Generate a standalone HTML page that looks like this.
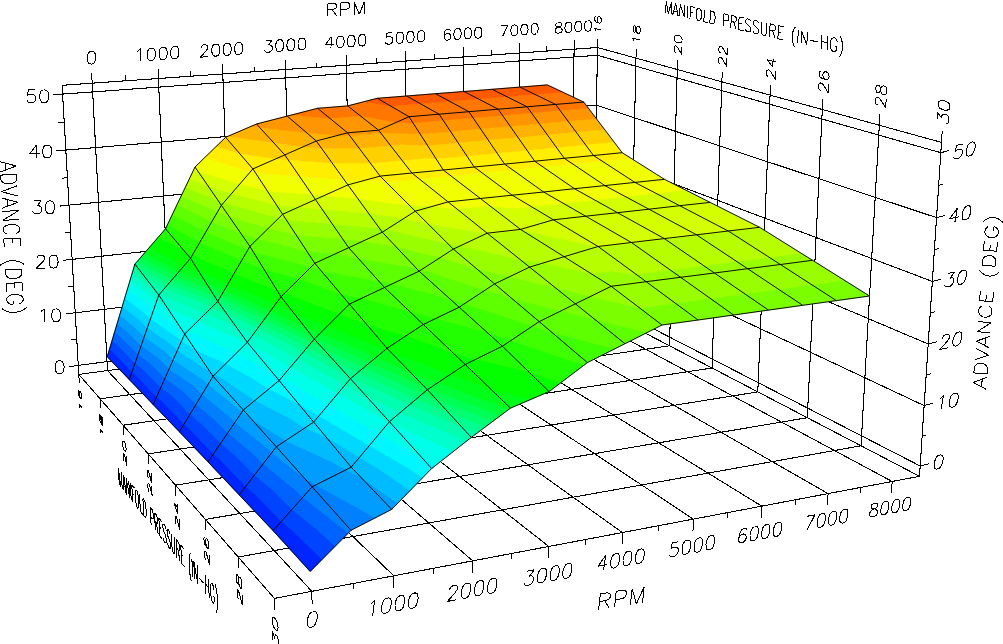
<!DOCTYPE html>
<html><head><meta charset="utf-8"><title>Advance map</title>
<style>html,body{margin:0;padding:0;background:#fff}svg{display:block}text{font-family:"Liberation Sans",sans-serif;fill:#000}</style></head>
<body>
<svg width="1003" height="644" viewBox="0 0 1003 644">
<rect width="1003" height="644" fill="#fff"/>
<g stroke="#000" stroke-width="1.05" fill="none" shape-rendering="crispEdges">
<path d="M78.8 374.4L593.1 305.9M62.1 85.3L597.5 47.5M78.3 365.4L593.2 297.8M75.2 312.8L594.1 250.6M72.1 259.4L594.9 202.8M69 205.1L595.7 154.3M65.8 150.1L596.5 105.2M62.6 94.1L597.4 55.3M78.8 374.4L62.1 85.3M593.1 305.9L597.5 47.5M107.5 370.5L92.2 83.2M171 362.1L158.4 78.5M232.7 353.9L222.8 74M292.7 345.9L285.5 69.5M351.2 338.1L346.4 65.2M408.2 330.5L405.6 61.1M463.7 323.1L463.3 57M517.8 315.9L519.4 53M570.5 308.9L574.1 49.2M593.1 305.9L919.5 476.3M597.5 47.5L941.5 142.4M593.2 297.8L920.2 466M594.1 250.6L924.1 405.6M594.9 202.8L928.2 344M595.7 154.3L932.3 281.4M596.5 105.2L936.5 217.6M597.4 55.3L940.8 152.7M593.1 305.9L597.5 47.5M630 325.1L636 58.1M669.5 345.8L677.3 69.5M712 368L721.9 81.8M757.8 391.9L770.1 95.1M807.3 417.7L822.3 109.6M861 445.8L879.3 125.3M919.5 476.3L941.5 142.4M78.8 374.4L593.1 305.9M100.1 398.8L630 325.1M123.2 425.2L669.5 345.8M148.2 453.9L712 368M175.5 485.2L757.8 391.9M205.4 519.4L807.3 417.7M238.2 557L861 445.8M274.4 598.4L919.5 476.3M78.8 374.4L274.4 598.4M593.1 305.9L919.5 476.3M107.5 370.5L311.8 591.3M171 362.1L393.8 575.8M232.7 353.9L472.8 560.9M292.7 345.9L548.9 546.5M351.2 338.1L622.4 532.6M408.2 330.5L693.3 519.1M463.7 323.1L761.9 506.2M517.8 315.9L828.1 493.6M570.5 308.9L892.2 481.5"/>
</g>
<g shape-rendering="crispEdges" stroke-width="0.6" stroke-linejoin="round">
<polygon points="562.3,92 583.8,102.1 546.3,93.3" fill="#ff7700" stroke="#ff7700"/>
<polygon points="519.9,87.1 547.3,84.9 562.3,92 546.3,93.3" fill="#ff5900" stroke="#ff5900"/>
<polygon points="546.3,93.3 583.8,102.1 555.6,104.4 534.6,94.2" fill="#ff7700" stroke="#ff7700"/>
<polygon points="519.9,87.1 546.3,93.3 534.6,94.2" fill="#ff5900" stroke="#ff5900"/>
<polygon points="534.6,94.2 555.6,104.4 518.4,95.5" fill="#ff7700" stroke="#ff7700"/>
<polygon points="492.1,89.3 519.9,87.1 534.6,94.2 518.4,95.5" fill="#ff5900" stroke="#ff5900"/>
<polygon points="518.4,95.5 555.6,104.4 527.1,106.8 506.5,96.5" fill="#ff7700" stroke="#ff7700"/>
<polygon points="492.1,89.3 518.4,95.5 506.5,96.5" fill="#ff5900" stroke="#ff5900"/>
<polygon points="506.5,96.5 527.1,106.8 490,97.8" fill="#ff7700" stroke="#ff7700"/>
<polygon points="464,91.5 492.1,89.3 506.5,96.5 490,97.8" fill="#ff5900" stroke="#ff5900"/>
<polygon points="490,97.8 527.1,106.8 498.2,109.2 478,98.8" fill="#ff7700" stroke="#ff7700"/>
<polygon points="464,91.5 490,97.8 478,98.8" fill="#ff5900" stroke="#ff5900"/>
<polygon points="478,98.8 498.2,109.2 461.4,100.1" fill="#ff7700" stroke="#ff7700"/>
<polygon points="435.5,93.7 464,91.5 478,98.8 461.4,100.1" fill="#ff5900" stroke="#ff5900"/>
<polygon points="461.4,100.1 498.2,109.2 468.9,111.7 449.2,101.1" fill="#ff7700" stroke="#ff7700"/>
<polygon points="435.5,93.7 461.4,100.1 449.2,101.1" fill="#ff5900" stroke="#ff5900"/>
<polygon points="449.2,101.1 468.9,111.7 432.3,102.5" fill="#ff7700" stroke="#ff7700"/>
<polygon points="406.6,96 435.5,93.7 449.2,101.1 432.3,102.5" fill="#ff5900" stroke="#ff5900"/>
<polygon points="432.3,102.5 468.9,111.7 439.1,114.2 420,103.5" fill="#ff7700" stroke="#ff7700"/>
<polygon points="406.6,96 432.3,102.5 420,103.5" fill="#ff5900" stroke="#ff5900"/>
<polygon points="420,103.5 439.1,114.2 402.8,104.9" fill="#ff7700" stroke="#ff7700"/>
<polygon points="377.3,98.3 406.6,96 420,103.5 402.8,104.9" fill="#ff5900" stroke="#ff5900"/>
<polygon points="402.8,104.9 439.1,114.2 409,116.7 390.3,105.9" fill="#ff7700" stroke="#ff7700"/>
<polygon points="377.3,98.3 402.8,104.9 390.3,105.9" fill="#ff5900" stroke="#ff5900"/>
<polygon points="347.7,105.9 364.9,101.5 390.3,105.9 409,116.7" fill="#ff7700" stroke="#ff7700"/>
<polygon points="364.9,101.5 377.3,98.3 390.3,105.9" fill="#ff5900" stroke="#ff5900"/>
<polygon points="396.6,122.2 378.6,130.2 360.1,115.7" fill="#ff9500" stroke="#ff9500"/>
<polygon points="347.7,105.9 409,116.7 396.6,122.2 360.1,115.7" fill="#ff7700" stroke="#ff7700"/>
<polygon points="360.1,115.7 378.6,130.2 342.2,117.1" fill="#ff9500" stroke="#ff9500"/>
<polygon points="317.6,108.3 347.7,105.9 360.1,115.7 342.2,117.1" fill="#ff7700" stroke="#ff7700"/>
<polygon points="342.2,117.1 378.6,130.2 347.6,132.8 329.6,118.2" fill="#ff9500" stroke="#ff9500"/>
<polygon points="317.6,108.3 342.2,117.1 329.6,118.2" fill="#ff7700" stroke="#ff7700"/>
<polygon points="287.2,116.1 292.7,114.7 329.6,118.2 347.6,132.8" fill="#ff9500" stroke="#ff9500"/>
<polygon points="292.7,114.7 317.6,108.3 329.6,118.2" fill="#ff7700" stroke="#ff7700"/>
<polygon points="337.9,135.4 316.3,141 306.1,132.3" fill="#ffb200" stroke="#ffb200"/>
<polygon points="287.2,116.1 347.6,132.8 337.9,135.4 306.1,132.3" fill="#ff9500" stroke="#ff9500"/>
<polygon points="306.1,132.3 316.3,141 274.8,129.2" fill="#ffb200" stroke="#ffb200"/>
<polygon points="256.5,124 287.2,116.1 306.1,132.3 274.8,129.2" fill="#ff9500" stroke="#ff9500"/>
<polygon points="303.5,146.6 284.8,154.9 273.4,142.4" fill="#ffd000" stroke="#ffd000"/>
<polygon points="274.8,129.2 316.3,141 303.5,146.6 273.4,142.4 259.4,127.1" fill="#ffb200" stroke="#ffb200"/>
<polygon points="256.5,124 274.8,129.2 259.4,127.1" fill="#ff9500" stroke="#ff9500"/>
<polygon points="225.6,137.3 228.5,136.1 273.4,142.4 284.8,154.9" fill="#ffd000" stroke="#ffd000"/>
<polygon points="228.5,136.1 251.7,126.1 259.4,127.1 273.4,142.4" fill="#ffb200" stroke="#ffb200"/>
<polygon points="251.7,126.1 256.5,124 259.4,127.1" fill="#ff9500" stroke="#ff9500"/>
<polygon points="276.1,158.7 252.9,168.9 239.4,153.3" fill="#ffee00" stroke="#ffee00"/>
<polygon points="225.6,137.3 284.8,154.9 276.1,158.7 239.4,153.3" fill="#ffd000" stroke="#ffd000"/>
<polygon points="195,167 204.7,157.6 240.4,168.5" fill="#f2ff00" stroke="#f2ff00"/>
<polygon points="204.7,157.6 216.1,146.5 239.4,153.3 252.9,168.9 240.4,168.5" fill="#ffee00" stroke="#ffee00"/>
<polygon points="216.1,146.5 225.6,137.3 239.4,153.3" fill="#ffd000" stroke="#ffd000"/>
<polygon points="223.6,202.7 221.4,205.3 218.6,201.2" fill="#99ff00" stroke="#99ff00"/>
<polygon points="231.8,193.3 223.6,202.7 218.6,201.2 208.2,186.1" fill="#b7ff00" stroke="#b7ff00"/>
<polygon points="239.9,183.9 231.8,193.3 208.2,186.1 198,171.4" fill="#d4ff00" stroke="#d4ff00"/>
<polygon points="195,167 240.4,168.5 250.7,171.4 239.9,183.9 198,171.4" fill="#f2ff00" stroke="#f2ff00"/>
<polygon points="240.4,168.5 252.9,168.9 250.7,171.4" fill="#ffee00" stroke="#ffee00"/>
<polygon points="165.5,228.8 167.4,224.9 171,226.5" fill="#22ff00" stroke="#22ff00"/>
<polygon points="167.4,224.9 172.1,215 184.7,220.8 171,226.5" fill="#40ff00" stroke="#40ff00"/>
<polygon points="172.1,215 176.8,205.2 198.6,214.9 184.7,220.8" fill="#5eff00" stroke="#5eff00"/>
<polygon points="176.8,205.2 181.2,195.9 212,209.2 198.6,214.9" fill="#7bff00" stroke="#7bff00"/>
<polygon points="181.2,195.9 185.4,187.1 218.6,201.2 221.4,205.3 212,209.2" fill="#99ff00" stroke="#99ff00"/>
<polygon points="185.4,187.1 189.5,178.4 208.2,186.1 218.6,201.2" fill="#b7ff00" stroke="#b7ff00"/>
<polygon points="189.5,178.4 193.7,169.6 198,171.4 208.2,186.1" fill="#d4ff00" stroke="#d4ff00"/>
<polygon points="193.7,169.6 195,167 198,171.4" fill="#f2ff00" stroke="#f2ff00"/>
<polygon points="192.5,254.9 190.5,258.3 183.1,249.5" fill="#04ff00" stroke="#04ff00"/>
<polygon points="165.5,228.8 171,226.5 199.8,242.4 192.5,254.9 183.1,249.5" fill="#22ff00" stroke="#22ff00"/>
<polygon points="171,226.5 184.7,220.8 205.8,232 199.8,242.4" fill="#40ff00" stroke="#40ff00"/>
<polygon points="184.7,220.8 198.6,214.9 211.8,221.7 205.8,232" fill="#5eff00" stroke="#5eff00"/>
<polygon points="198.6,214.9 212,209.2 217.5,212 211.8,221.7" fill="#7bff00" stroke="#7bff00"/>
<polygon points="212,209.2 221.4,205.3 217.5,212" fill="#99ff00" stroke="#99ff00"/>
<polygon points="134.9,264.1 137.4,261.2 141.5,263.4" fill="#00ff73" stroke="#00ff73"/>
<polygon points="137.4,261.2 140.7,257.5 150.2,262.5 141.5,263.4" fill="#00ff55" stroke="#00ff55"/>
<polygon points="140.7,257.5 144.3,253.3 159.9,261.5 150.2,262.5" fill="#00ff37" stroke="#00ff37"/>
<polygon points="144.3,253.3 149.4,247.4 173.8,260.1 159.9,261.5" fill="#00ff19" stroke="#00ff19"/>
<polygon points="149.4,247.4 158.3,237.2 183.1,249.5 190.5,258.3 173.8,260.1" fill="#04ff00" stroke="#04ff00"/>
<polygon points="158.3,237.2 165.5,228.8 183.1,249.5" fill="#22ff00" stroke="#22ff00"/>
<polygon points="159.6,294.1 158.8,295 156.9,292.6" fill="#00ffcc" stroke="#00ffcc"/>
<polygon points="164.8,288.1 159.6,294.1 156.9,292.6 145.1,277.3" fill="#00ffae" stroke="#00ffae"/>
<polygon points="168.5,283.8 164.8,288.1 145.1,277.3 136.9,266.7" fill="#00ff90" stroke="#00ff90"/>
<polygon points="134.9,264.1 141.5,263.4 171.9,279.8 168.5,283.8 136.9,266.7" fill="#00ff73" stroke="#00ff73"/>
<polygon points="141.5,263.4 150.2,262.5 175.3,275.8 171.9,279.8" fill="#00ff55" stroke="#00ff55"/>
<polygon points="150.2,262.5 159.9,261.5 179,271.6 175.3,275.8" fill="#00ff37" stroke="#00ff37"/>
<polygon points="159.9,261.5 173.8,260.1 184.3,265.5 179,271.6" fill="#00ff19" stroke="#00ff19"/>
<polygon points="173.8,260.1 190.5,258.3 184.3,265.5" fill="#04ff00" stroke="#04ff00"/>
<polygon points="107.2,356.8 109.6,349 112,351.1" fill="#0026ff" stroke="#0026ff"/>
<polygon points="109.6,349 112.1,340.5 117.2,344.8 112,351.1" fill="#0044ff" stroke="#0044ff"/>
<polygon points="112.1,340.5 114.6,332 122.5,338.5 117.2,344.8" fill="#0062ff" stroke="#0062ff"/>
<polygon points="114.6,332 117.2,323.5 127.8,332.2 122.5,338.5" fill="#0080ff" stroke="#0080ff"/>
<polygon points="117.2,323.5 119.7,315 133.1,325.7 127.8,332.2" fill="#009dff" stroke="#009dff"/>
<polygon points="119.7,315 122.3,306.4 138.6,319.2 133.1,325.7" fill="#00bbff" stroke="#00bbff"/>
<polygon points="122.3,306.4 124.8,297.9 144,312.7 138.6,319.2" fill="#00d9ff" stroke="#00d9ff"/>
<polygon points="124.8,297.9 127.4,289.4 149.5,306.1 144,312.7" fill="#00f7ff" stroke="#00f7ff"/>
<polygon points="127.4,289.4 129.9,280.8 155.1,299.5 149.5,306.1" fill="#00ffea" stroke="#00ffea"/>
<polygon points="129.9,280.8 131.9,274.3 156.9,292.6 158.8,295 155.1,299.5" fill="#00ffcc" stroke="#00ffcc"/>
<polygon points="131.9,274.3 133.5,268.9 145.1,277.3 156.9,292.6" fill="#00ffae" stroke="#00ffae"/>
<polygon points="133.5,268.9 134.6,265.1 136.9,266.7 145.1,277.3" fill="#00ff90" stroke="#00ff90"/>
<polygon points="134.6,265.1 134.9,264.1 136.9,266.7" fill="#00ff73" stroke="#00ff73"/>
<polygon points="107.2,356.8 112,351.1 131.9,372.1 129.3,379.6" fill="#0026ff" stroke="#0026ff"/>
<polygon points="112,351.1 117.2,344.8 135,363.2 131.9,372.1" fill="#0044ff" stroke="#0044ff"/>
<polygon points="117.2,344.8 122.5,338.5 138.1,354.3 135,363.2" fill="#0062ff" stroke="#0062ff"/>
<polygon points="122.5,338.5 127.8,332.2 141.2,345.5 138.1,354.3" fill="#0080ff" stroke="#0080ff"/>
<polygon points="127.8,332.2 133.1,325.7 144.3,336.6 141.2,345.5" fill="#009dff" stroke="#009dff"/>
<polygon points="133.1,325.7 138.6,319.2 147.4,327.7 144.3,336.6" fill="#00bbff" stroke="#00bbff"/>
<polygon points="138.6,319.2 144,312.7 150.5,318.8 147.4,327.7" fill="#00d9ff" stroke="#00d9ff"/>
<polygon points="144,312.7 149.5,306.1 153.6,309.8 150.5,318.8" fill="#00f7ff" stroke="#00f7ff"/>
<polygon points="149.5,306.1 155.1,299.5 156.7,300.9 153.6,309.8" fill="#00ffea" stroke="#00ffea"/>
<polygon points="155.1,299.5 158.8,295 156.7,300.9" fill="#00ffcc" stroke="#00ffcc"/>
<polygon points="614,141.9 622.2,152.7 608.1,142.5" fill="#ffee00" stroke="#ffee00"/>
<polygon points="604.4,129.3 614,141.9 608.1,142.5 591.5,130.4" fill="#ffd000" stroke="#ffd000"/>
<polygon points="596.2,118.5 604.4,129.3 591.5,130.4 577.3,120.1" fill="#ffb200" stroke="#ffb200"/>
<polygon points="588.1,107.9 596.2,118.5 577.3,120.1 563.3,110" fill="#ff9500" stroke="#ff9500"/>
<polygon points="555.6,104.4 583.8,102.1 588.1,107.9 563.3,110" fill="#ff7700" stroke="#ff7700"/>
<polygon points="608.1,142.5 622.2,152.7 593.5,155.5 585.4,144.6" fill="#ffee00" stroke="#ffee00"/>
<polygon points="591.5,130.4 608.1,142.5 585.4,144.6 575.9,131.8" fill="#ffd000" stroke="#ffd000"/>
<polygon points="577.3,120.1 591.5,130.4 575.9,131.8 567.9,120.9" fill="#ffb200" stroke="#ffb200"/>
<polygon points="563.3,110 577.3,120.1 567.9,120.9 559.9,110.3" fill="#ff9500" stroke="#ff9500"/>
<polygon points="555.6,104.4 563.3,110 559.9,110.3" fill="#ff7700" stroke="#ff7700"/>
<polygon points="585.4,144.6 593.5,155.5 579.4,145.2" fill="#ffee00" stroke="#ffee00"/>
<polygon points="575.9,131.8 585.4,144.6 579.4,145.2 562.8,133" fill="#ffd000" stroke="#ffd000"/>
<polygon points="567.9,120.9 575.9,131.8 562.8,133 548.7,122.6" fill="#ffb200" stroke="#ffb200"/>
<polygon points="559.9,110.3 567.9,120.9 548.7,122.6 534.7,112.4" fill="#ff9500" stroke="#ff9500"/>
<polygon points="527.1,106.8 555.6,104.4 559.9,110.3 534.7,112.4" fill="#ff7700" stroke="#ff7700"/>
<polygon points="579.4,145.2 593.5,155.5 564.3,158.3 556.3,147.3" fill="#ffee00" stroke="#ffee00"/>
<polygon points="562.8,133 579.4,145.2 556.3,147.3 547.1,134.5" fill="#ffd000" stroke="#ffd000"/>
<polygon points="548.7,122.6 562.8,133 547.1,134.5 539.1,123.5" fill="#ffb200" stroke="#ffb200"/>
<polygon points="534.7,112.4 548.7,122.6 539.1,123.5 531.3,112.7" fill="#ff9500" stroke="#ff9500"/>
<polygon points="527.1,106.8 534.7,112.4 531.3,112.7" fill="#ff7700" stroke="#ff7700"/>
<polygon points="556.3,147.3 564.3,158.3 550.3,147.9" fill="#ffee00" stroke="#ffee00"/>
<polygon points="547.1,134.5 556.3,147.3 550.3,147.9 533.8,135.7" fill="#ffd000" stroke="#ffd000"/>
<polygon points="539.1,123.5 547.1,134.5 533.8,135.7 519.7,125.2" fill="#ffb200" stroke="#ffb200"/>
<polygon points="531.3,112.7 539.1,123.5 519.7,125.2 505.8,114.9" fill="#ff9500" stroke="#ff9500"/>
<polygon points="498.2,109.2 527.1,106.8 531.3,112.7 505.8,114.9" fill="#ff7700" stroke="#ff7700"/>
<polygon points="550.3,147.9 564.3,158.3 534.7,161.2 526.9,150.1" fill="#ffee00" stroke="#ffee00"/>
<polygon points="533.8,135.7 550.3,147.9 526.9,150.1 517.8,137.1" fill="#ffd000" stroke="#ffd000"/>
<polygon points="519.7,125.2 533.8,135.7 517.8,137.1 510,126" fill="#ffb200" stroke="#ffb200"/>
<polygon points="505.8,114.9 519.7,125.2 510,126 502.3,115.2" fill="#ff9500" stroke="#ff9500"/>
<polygon points="498.2,109.2 505.8,114.9 502.3,115.2" fill="#ff7700" stroke="#ff7700"/>
<polygon points="526.9,150.1 534.7,161.2 520.7,150.7" fill="#ffee00" stroke="#ffee00"/>
<polygon points="517.8,137.1 526.9,150.1 520.7,150.7 504.3,138.3" fill="#ffd000" stroke="#ffd000"/>
<polygon points="510,126 517.8,137.1 504.3,138.3 490.2,127.8" fill="#ffb200" stroke="#ffb200"/>
<polygon points="502.3,115.2 510,126 490.2,127.8 476.4,117.4" fill="#ff9500" stroke="#ff9500"/>
<polygon points="468.9,111.7 498.2,109.2 502.3,115.2 476.4,117.4" fill="#ff7700" stroke="#ff7700"/>
<polygon points="520.7,150.7 534.7,161.2 504.6,164.1 497,152.9" fill="#ffee00" stroke="#ffee00"/>
<polygon points="504.3,138.3 520.7,150.7 497,152.9 488.1,139.8" fill="#ffd000" stroke="#ffd000"/>
<polygon points="490.2,127.8 504.3,138.3 488.1,139.8 480.4,128.6" fill="#ffb200" stroke="#ffb200"/>
<polygon points="476.4,117.4 490.2,127.8 480.4,128.6 472.9,117.7" fill="#ff9500" stroke="#ff9500"/>
<polygon points="468.9,111.7 476.4,117.4 472.9,117.7" fill="#ff7700" stroke="#ff7700"/>
<polygon points="497,152.9 504.6,164.1 490.8,153.5" fill="#ffee00" stroke="#ffee00"/>
<polygon points="488.1,139.8 497,152.9 490.8,153.5 474.4,141" fill="#ffd000" stroke="#ffd000"/>
<polygon points="480.4,128.6 488.1,139.8 474.4,141 460.4,130.4" fill="#ffb200" stroke="#ffb200"/>
<polygon points="472.9,117.7 480.4,128.6 460.4,130.4 446.6,119.9" fill="#ff9500" stroke="#ff9500"/>
<polygon points="439.1,114.2 468.9,111.7 472.9,117.7 446.6,119.9" fill="#ff7700" stroke="#ff7700"/>
<polygon points="490.8,153.5 504.6,164.1 474.2,167 466.7,155.7" fill="#ffee00" stroke="#ffee00"/>
<polygon points="474.4,141 490.8,153.5 466.7,155.7 457.9,142.5" fill="#ffd000" stroke="#ffd000"/>
<polygon points="460.4,130.4 474.4,141 457.9,142.5 450.5,131.3" fill="#ffb200" stroke="#ffb200"/>
<polygon points="446.6,119.9 460.4,130.4 450.5,131.3 443.1,120.2" fill="#ff9500" stroke="#ff9500"/>
<polygon points="439.1,114.2 446.6,119.9 443.1,120.2" fill="#ff7700" stroke="#ff7700"/>
<polygon points="466.7,155.7 474.2,167 460.4,156.3" fill="#ffee00" stroke="#ffee00"/>
<polygon points="457.9,142.5 466.7,155.7 460.4,156.3 444.1,143.8" fill="#ffd000" stroke="#ffd000"/>
<polygon points="450.5,131.3 457.9,142.5 444.1,143.8 430.2,133" fill="#ffb200" stroke="#ffb200"/>
<polygon points="443.1,120.2 450.5,131.3 430.2,133 416.5,122.5" fill="#ff9500" stroke="#ff9500"/>
<polygon points="409,116.7 439.1,114.2 443.1,120.2 416.5,122.5" fill="#ff7700" stroke="#ff7700"/>
<polygon points="460.4,156.3 474.2,167 443.3,170 436,158.6" fill="#ffee00" stroke="#ffee00"/>
<polygon points="444.1,143.8 460.4,156.3 436,158.6 427.4,145.3" fill="#ffd000" stroke="#ffd000"/>
<polygon points="430.2,133 444.1,143.8 427.4,145.3 420.1,133.9" fill="#ffb200" stroke="#ffb200"/>
<polygon points="416.5,122.5 430.2,133 420.1,133.9 412.9,122.8" fill="#ff9500" stroke="#ff9500"/>
<polygon points="409,116.7 416.5,122.5 412.9,122.8" fill="#ff7700" stroke="#ff7700"/>
<polygon points="436,158.6 443.3,170 424.1,158.2" fill="#ffee00" stroke="#ffee00"/>
<polygon points="427.4,145.3 436,158.6 424.1,158.2 401.6,144.4" fill="#ffd000" stroke="#ffd000"/>
<polygon points="420.1,133.9 427.4,145.3 401.6,144.4 382.5,132.6" fill="#ffb200" stroke="#ffb200"/>
<polygon points="378.6,130.2 396.6,122.2 412.9,122.8 420.1,133.9 382.5,132.6" fill="#ff9500" stroke="#ff9500"/>
<polygon points="396.6,122.2 409,116.7 412.9,122.8" fill="#ff7700" stroke="#ff7700"/>
<polygon points="424.1,158.2 443.3,170 411.9,173 402,160.2" fill="#ffee00" stroke="#ffee00"/>
<polygon points="401.6,144.4 424.1,158.2 402,160.2 390.4,145.4" fill="#ffd000" stroke="#ffd000"/>
<polygon points="382.5,132.6 401.6,144.4 390.4,145.4 380.6,132.7" fill="#ffb200" stroke="#ffb200"/>
<polygon points="378.6,130.2 382.5,132.6 380.6,132.7" fill="#ff9500" stroke="#ff9500"/>
<polygon points="402,160.2 411.9,173 392.8,161.1" fill="#ffee00" stroke="#ffee00"/>
<polygon points="390.4,145.4 402,160.2 392.8,161.1 370.5,147.1" fill="#ffd000" stroke="#ffd000"/>
<polygon points="380.6,132.7 390.4,145.4 370.5,147.1 351.5,135.3" fill="#ffb200" stroke="#ffb200"/>
<polygon points="347.6,132.8 378.6,130.2 380.6,132.7 351.5,135.3" fill="#ff9500" stroke="#ff9500"/>
<polygon points="392.8,161.1 411.9,173 380.1,176.1 370.4,163.2" fill="#ffee00" stroke="#ffee00"/>
<polygon points="370.5,147.1 392.8,161.1 370.4,163.2 359.1,148.2" fill="#ffd000" stroke="#ffd000"/>
<polygon points="351.5,135.3 370.5,147.1 359.1,148.2 349.6,135.4" fill="#ffb200" stroke="#ffb200"/>
<polygon points="347.6,132.8 351.5,135.3 349.6,135.4" fill="#ff9500" stroke="#ff9500"/>
<polygon points="370.4,163.2 380.1,176.1 356.5,163.1" fill="#ffee00" stroke="#ffee00"/>
<polygon points="359.1,148.2 370.4,163.2 356.5,163.1 329,148" fill="#ffd000" stroke="#ffd000"/>
<polygon points="316.3,141 337.9,135.4 349.6,135.4 359.1,148.2 329,148" fill="#ffb200" stroke="#ffb200"/>
<polygon points="337.9,135.4 347.6,132.8 349.6,135.4" fill="#ff9500" stroke="#ff9500"/>
<polygon points="366.7,179.8 347.9,184.9 344.2,179.7" fill="#f2ff00" stroke="#f2ff00"/>
<polygon points="356.5,163.1 380.1,176.1 366.7,179.8 344.2,179.7 332.1,163" fill="#ffee00" stroke="#ffee00"/>
<polygon points="329,148 356.5,163.1 332.1,163 321.3,148" fill="#ffd000" stroke="#ffd000"/>
<polygon points="316.3,141 329,148 321.3,148" fill="#ffb200" stroke="#ffb200"/>
<polygon points="344.2,179.7 347.9,184.9 335.4,179" fill="#f2ff00" stroke="#f2ff00"/>
<polygon points="332.1,163 344.2,179.7 335.4,179 296,160.2" fill="#ffee00" stroke="#ffee00"/>
<polygon points="284.8,154.9 303.5,146.6 321.3,148 332.1,163 296,160.2" fill="#ffd000" stroke="#ffd000"/>
<polygon points="303.5,146.6 316.3,141 321.3,148" fill="#ffb200" stroke="#ffb200"/>
<polygon points="324,195.7 315.4,199.5 312.1,194.7" fill="#d4ff00" stroke="#d4ff00"/>
<polygon points="335.4,179 347.9,184.9 324,195.7 312.1,194.7 299.4,176.1" fill="#f2ff00" stroke="#f2ff00"/>
<polygon points="296,160.2 335.4,179 299.4,176.1 288,159.6" fill="#ffee00" stroke="#ffee00"/>
<polygon points="284.8,154.9 296,160.2 288,159.6" fill="#ffd000" stroke="#ffd000"/>
<polygon points="312.1,194.7 315.4,199.5 304.2,194" fill="#d4ff00" stroke="#d4ff00"/>
<polygon points="299.4,176.1 312.1,194.7 304.2,194 261.4,173.1" fill="#f2ff00" stroke="#f2ff00"/>
<polygon points="252.9,168.9 276.1,158.7 288,159.6 299.4,176.1 261.4,173.1" fill="#ffee00" stroke="#ffee00"/>
<polygon points="276.1,158.7 284.8,154.9 288,159.6" fill="#ffd000" stroke="#ffd000"/>
<polygon points="298.6,207.1 282.6,214.3 276.7,205.2" fill="#b7ff00" stroke="#b7ff00"/>
<polygon points="304.2,194 315.4,199.5 298.6,207.1 276.7,205.2 267.3,191" fill="#d4ff00" stroke="#d4ff00"/>
<polygon points="261.4,173.1 304.2,194 267.3,191 255.3,172.6" fill="#f2ff00" stroke="#f2ff00"/>
<polygon points="252.9,168.9 261.4,173.1 255.3,172.6" fill="#ffee00" stroke="#ffee00"/>
<polygon points="221.4,205.3 223.6,202.7 246.2,208.9" fill="#99ff00" stroke="#99ff00"/>
<polygon points="223.6,202.7 231.8,193.3 276.7,205.2 282.6,214.3 246.2,208.9" fill="#b7ff00" stroke="#b7ff00"/>
<polygon points="231.8,193.3 239.9,183.9 267.3,191 276.7,205.2" fill="#d4ff00" stroke="#d4ff00"/>
<polygon points="239.9,183.9 250.7,171.4 255.3,172.6 267.3,191" fill="#f2ff00" stroke="#f2ff00"/>
<polygon points="250.7,171.4 252.9,168.9 255.3,172.6" fill="#ffee00" stroke="#ffee00"/>
<polygon points="257.8,238.6 249.9,246.4 241.1,233.7" fill="#5eff00" stroke="#5eff00"/>
<polygon points="268.6,228 257.8,238.6 241.1,233.7 229.3,216.7" fill="#7bff00" stroke="#7bff00"/>
<polygon points="221.4,205.3 246.2,208.9 278.8,218 268.6,228 229.3,216.7" fill="#99ff00" stroke="#99ff00"/>
<polygon points="246.2,208.9 282.6,214.3 278.8,218" fill="#b7ff00" stroke="#b7ff00"/>
<polygon points="190.5,258.3 192.5,254.9 197.1,257" fill="#04ff00" stroke="#04ff00"/>
<polygon points="192.5,254.9 199.8,242.4 222.1,252 197.1,257" fill="#22ff00" stroke="#22ff00"/>
<polygon points="199.8,242.4 205.8,232 243.2,247.7 222.1,252" fill="#40ff00" stroke="#40ff00"/>
<polygon points="205.8,232 211.8,221.7 241.1,233.7 249.9,246.4 243.2,247.7" fill="#5eff00" stroke="#5eff00"/>
<polygon points="211.8,221.7 217.5,212 229.3,216.7 241.1,233.7" fill="#7bff00" stroke="#7bff00"/>
<polygon points="217.5,212 221.4,205.3 229.3,216.7" fill="#99ff00" stroke="#99ff00"/>
<polygon points="219.5,298.4 217.8,301.4 214.3,296" fill="#00ff73" stroke="#00ff73"/>
<polygon points="221.8,294.5 219.5,298.4 214.3,296 209.9,288.9" fill="#00ff55" stroke="#00ff55"/>
<polygon points="224.3,290.2 221.8,294.5 209.9,288.9 205,281.3" fill="#00ff37" stroke="#00ff37"/>
<polygon points="227.9,284.1 224.3,290.2 205,281.3 198.3,270.6" fill="#00ff19" stroke="#00ff19"/>
<polygon points="190.5,258.3 197.1,257 234.1,273.4 227.9,284.1 198.3,270.6" fill="#04ff00" stroke="#04ff00"/>
<polygon points="197.1,257 222.1,252 241.7,260.4 234.1,273.4" fill="#22ff00" stroke="#22ff00"/>
<polygon points="222.1,252 243.2,247.7 247.9,249.7 241.7,260.4" fill="#40ff00" stroke="#40ff00"/>
<polygon points="243.2,247.7 249.9,246.4 247.9,249.7" fill="#5eff00" stroke="#5eff00"/>
<polygon points="158.8,295 159.6,294.1 163.1,295.5" fill="#00ffcc" stroke="#00ffcc"/>
<polygon points="159.6,294.1 164.8,288.1 191.6,298.6 163.1,295.5" fill="#00ffae" stroke="#00ffae"/>
<polygon points="164.8,288.1 168.5,283.8 212.6,300.9 191.6,298.6" fill="#00ff90" stroke="#00ff90"/>
<polygon points="168.5,283.8 171.9,279.8 214.3,296 217.8,301.4 212.6,300.9" fill="#00ff73" stroke="#00ff73"/>
<polygon points="171.9,279.8 175.3,275.8 209.9,288.9 214.3,296" fill="#00ff55" stroke="#00ff55"/>
<polygon points="175.3,275.8 179,271.6 205,281.3 209.9,288.9" fill="#00ff37" stroke="#00ff37"/>
<polygon points="179,271.6 184.3,265.5 198.3,270.6 205,281.3" fill="#00ff19" stroke="#00ff19"/>
<polygon points="184.3,265.5 190.5,258.3 198.3,270.6" fill="#04ff00" stroke="#04ff00"/>
<polygon points="187.5,331.3 184.7,334 181,328.4" fill="#00f7ff" stroke="#00f7ff"/>
<polygon points="197.8,321.1 187.5,331.3 181,328.4 167.5,308.1" fill="#00ffea" stroke="#00ffea"/>
<polygon points="158.8,295 163.1,295.5 205.6,313.4 197.8,321.1 167.5,308.1" fill="#00ffcc" stroke="#00ffcc"/>
<polygon points="163.1,295.5 191.6,298.6 212,307.1 205.6,313.4" fill="#00ffae" stroke="#00ffae"/>
<polygon points="191.6,298.6 212.6,300.9 216.7,302.5 212,307.1" fill="#00ff90" stroke="#00ff90"/>
<polygon points="212.6,300.9 217.8,301.4 216.7,302.5" fill="#00ff73" stroke="#00ff73"/>
<polygon points="129.3,379.6 131.9,372.1 135.3,374.7" fill="#0026ff" stroke="#0026ff"/>
<polygon points="131.9,372.1 135,363.2 142.4,368.8 135.3,374.7" fill="#0044ff" stroke="#0044ff"/>
<polygon points="135,363.2 138.1,354.3 149.6,362.9 142.4,368.8" fill="#0062ff" stroke="#0062ff"/>
<polygon points="138.1,354.3 141.2,345.5 156.9,356.9 149.6,362.9" fill="#0080ff" stroke="#0080ff"/>
<polygon points="141.2,345.5 144.3,336.6 164.2,350.9 156.9,356.9" fill="#009dff" stroke="#009dff"/>
<polygon points="144.3,336.6 147.4,327.7 171.6,344.7 164.2,350.9" fill="#00bbff" stroke="#00bbff"/>
<polygon points="147.4,327.7 150.5,318.8 179.2,338.6 171.6,344.7" fill="#00d9ff" stroke="#00d9ff"/>
<polygon points="150.5,318.8 153.6,309.8 181,328.4 184.7,334 179.2,338.6" fill="#00f7ff" stroke="#00f7ff"/>
<polygon points="153.6,309.8 156.7,300.9 167.5,308.1 181,328.4" fill="#00ffea" stroke="#00ffea"/>
<polygon points="156.7,300.9 158.8,295 167.5,308.1" fill="#00ffcc" stroke="#00ffcc"/>
<polygon points="129.3,379.6 135.3,374.7 156.6,397 153.2,404.6" fill="#0026ff" stroke="#0026ff"/>
<polygon points="135.3,374.7 142.4,368.8 160.8,387.6 156.6,397" fill="#0044ff" stroke="#0044ff"/>
<polygon points="142.4,368.8 149.6,362.9 165,378.3 160.8,387.6" fill="#0062ff" stroke="#0062ff"/>
<polygon points="149.6,362.9 156.9,356.9 169.1,368.9 165,378.3" fill="#0080ff" stroke="#0080ff"/>
<polygon points="156.9,356.9 164.2,350.9 173.3,359.6 169.1,368.9" fill="#009dff" stroke="#009dff"/>
<polygon points="164.2,350.9 171.6,344.7 177.5,350.2 173.3,359.6" fill="#00bbff" stroke="#00bbff"/>
<polygon points="171.6,344.7 179.2,338.6 181.7,340.8 177.5,350.2" fill="#00d9ff" stroke="#00d9ff"/>
<polygon points="179.2,338.6 184.7,334 181.7,340.8" fill="#00f7ff" stroke="#00f7ff"/>
<polygon points="630.8,158.1 664.4,179.3 608,160.4" fill="#f2ff00" stroke="#f2ff00"/>
<polygon points="593.5,155.5 622.2,152.7 630.8,158.1 608,160.4" fill="#ffee00" stroke="#ffee00"/>
<polygon points="608,160.4 664.4,179.3 634.9,182.4 601.9,161" fill="#f2ff00" stroke="#f2ff00"/>
<polygon points="593.5,155.5 608,160.4 601.9,161" fill="#ffee00" stroke="#ffee00"/>
<polygon points="601.9,161 634.9,182.4 578.8,163.3" fill="#f2ff00" stroke="#f2ff00"/>
<polygon points="564.3,158.3 593.5,155.5 601.9,161 578.8,163.3" fill="#ffee00" stroke="#ffee00"/>
<polygon points="578.8,163.3 634.9,182.4 604.9,185.6 572.6,163.9" fill="#f2ff00" stroke="#f2ff00"/>
<polygon points="564.3,158.3 578.8,163.3 572.6,163.9" fill="#ffee00" stroke="#ffee00"/>
<polygon points="572.6,163.9 604.9,185.6 549.1,166.2" fill="#f2ff00" stroke="#f2ff00"/>
<polygon points="534.7,161.2 564.3,158.3 572.6,163.9 549.1,166.2" fill="#ffee00" stroke="#ffee00"/>
<polygon points="549.1,166.2 604.9,185.6 574.4,188.7 542.8,166.8" fill="#f2ff00" stroke="#f2ff00"/>
<polygon points="534.7,161.2 549.1,166.2 542.8,166.8" fill="#ffee00" stroke="#ffee00"/>
<polygon points="542.8,166.8 574.4,188.7 519,169.1" fill="#f2ff00" stroke="#f2ff00"/>
<polygon points="504.6,164.1 534.7,161.2 542.8,166.8 519,169.1" fill="#ffee00" stroke="#ffee00"/>
<polygon points="519,169.1 574.4,188.7 543.6,192 512.6,169.8" fill="#f2ff00" stroke="#f2ff00"/>
<polygon points="504.6,164.1 519,169.1 512.6,169.8" fill="#ffee00" stroke="#ffee00"/>
<polygon points="512.6,169.8 543.6,192 488.4,172.1" fill="#f2ff00" stroke="#f2ff00"/>
<polygon points="474.2,167 504.6,164.1 512.6,169.8 488.4,172.1" fill="#ffee00" stroke="#ffee00"/>
<polygon points="488.4,172.1 543.6,192 512.2,195.2 481.9,172.8" fill="#f2ff00" stroke="#f2ff00"/>
<polygon points="474.2,167 488.4,172.1 481.9,172.8" fill="#ffee00" stroke="#ffee00"/>
<polygon points="481.9,172.8 512.2,195.2 457.4,175.2" fill="#f2ff00" stroke="#f2ff00"/>
<polygon points="443.3,170 474.2,167 481.9,172.8 457.4,175.2" fill="#ffee00" stroke="#ffee00"/>
<polygon points="457.4,175.2 512.2,195.2 480.4,198.5 450.8,175.8" fill="#f2ff00" stroke="#f2ff00"/>
<polygon points="443.3,170 457.4,175.2 450.8,175.8" fill="#ffee00" stroke="#ffee00"/>
<polygon points="450.8,175.8 480.4,198.5 426,178.3" fill="#f2ff00" stroke="#f2ff00"/>
<polygon points="411.9,173 443.3,170 450.8,175.8 426,178.3" fill="#ffee00" stroke="#ffee00"/>
<polygon points="426,178.3 480.4,198.5 448.1,201.9 419.3,178.9" fill="#f2ff00" stroke="#f2ff00"/>
<polygon points="411.9,173 426,178.3 419.3,178.9" fill="#ffee00" stroke="#ffee00"/>
<polygon points="419.3,178.9 448.1,201.9 394,181.4" fill="#f2ff00" stroke="#f2ff00"/>
<polygon points="380.1,176.1 411.9,173 419.3,178.9 394,181.4" fill="#ffee00" stroke="#ffee00"/>
<polygon points="432.5,206.3 415.3,211.2 409,204.8" fill="#d4ff00" stroke="#d4ff00"/>
<polygon points="394,181.4 448.1,201.9 432.5,206.3 409,204.8 384.9,180.9" fill="#f2ff00" stroke="#f2ff00"/>
<polygon points="380.1,176.1 394,181.4 384.9,180.9" fill="#ffee00" stroke="#ffee00"/>
<polygon points="409,204.8 415.3,211.2 397.2,204.1" fill="#d4ff00" stroke="#d4ff00"/>
<polygon points="347.9,184.9 366.7,179.8 384.9,180.9 409,204.8 397.2,204.1" fill="#f2ff00" stroke="#f2ff00"/>
<polygon points="366.7,179.8 380.1,176.1 384.9,180.9" fill="#ffee00" stroke="#ffee00"/>
<polygon points="386.8,229.3 382.3,232.2 379.3,228.2" fill="#99ff00" stroke="#99ff00"/>
<polygon points="404,218.4 386.8,229.3 379.3,228.2 368.4,213.2" fill="#b7ff00" stroke="#b7ff00"/>
<polygon points="397.2,204.1 415.3,211.2 404,218.4 368.4,213.2 357.8,198.5" fill="#d4ff00" stroke="#d4ff00"/>
<polygon points="347.9,184.9 397.2,204.1 357.8,198.5" fill="#f2ff00" stroke="#f2ff00"/>
<polygon points="379.3,228.2 382.3,232.2 372.8,227.6" fill="#99ff00" stroke="#99ff00"/>
<polygon points="368.4,213.2 379.3,228.2 372.8,227.6 337.9,210.5" fill="#b7ff00" stroke="#b7ff00"/>
<polygon points="315.4,199.5 324,195.7 357.8,198.5 368.4,213.2 337.9,210.5" fill="#d4ff00" stroke="#d4ff00"/>
<polygon points="324,195.7 347.9,184.9 357.8,198.5" fill="#f2ff00" stroke="#f2ff00"/>
<polygon points="363.2,241 348.7,247.7 342.9,239.2" fill="#7bff00" stroke="#7bff00"/>
<polygon points="372.8,227.6 382.3,232.2 363.2,241 342.9,239.2 332.4,224" fill="#99ff00" stroke="#99ff00"/>
<polygon points="337.9,210.5 372.8,227.6 332.4,224 322.1,209.2" fill="#b7ff00" stroke="#b7ff00"/>
<polygon points="315.4,199.5 337.9,210.5 322.1,209.2" fill="#d4ff00" stroke="#d4ff00"/>
<polygon points="342.9,239.2 348.7,247.7 329.4,237.9" fill="#7bff00" stroke="#7bff00"/>
<polygon points="332.4,224 342.9,239.2 329.4,237.9 295.2,220.7" fill="#99ff00" stroke="#99ff00"/>
<polygon points="282.6,214.3 298.6,207.1 322.1,209.2 332.4,224 295.2,220.7" fill="#b7ff00" stroke="#b7ff00"/>
<polygon points="298.6,207.1 315.4,199.5 322.1,209.2" fill="#d4ff00" stroke="#d4ff00"/>
<polygon points="335.3,253.9 314.8,263.3 306.8,251.2" fill="#5eff00" stroke="#5eff00"/>
<polygon points="329.4,237.9 348.7,247.7 335.3,253.9 306.8,251.2 296.1,234.9" fill="#7bff00" stroke="#7bff00"/>
<polygon points="295.2,220.7 329.4,237.9 296.1,234.9 286.2,219.9" fill="#99ff00" stroke="#99ff00"/>
<polygon points="282.6,214.3 295.2,220.7 286.2,219.9" fill="#b7ff00" stroke="#b7ff00"/>
<polygon points="249.9,246.4 257.8,238.6 306.8,251.2 314.8,263.3" fill="#5eff00" stroke="#5eff00"/>
<polygon points="257.8,238.6 268.6,228 296.1,234.9 306.8,251.2" fill="#7bff00" stroke="#7bff00"/>
<polygon points="268.6,228 278.8,218 286.2,219.9 296.1,234.9" fill="#99ff00" stroke="#99ff00"/>
<polygon points="278.8,218 282.6,214.3 286.2,219.9" fill="#b7ff00" stroke="#b7ff00"/>
<polygon points="284.9,292.9 281,296.8 277.3,290.8" fill="#04ff00" stroke="#04ff00"/>
<polygon points="299.3,278.7 284.9,292.9 277.3,290.8 263.9,269.1" fill="#22ff00" stroke="#22ff00"/>
<polygon points="311.2,267 299.3,278.7 263.9,269.1 253.2,251.7" fill="#40ff00" stroke="#40ff00"/>
<polygon points="249.9,246.4 314.8,263.3 311.2,267 253.2,251.7" fill="#5eff00" stroke="#5eff00"/>
<polygon points="217.8,301.4 219.5,298.4 225.3,300.9" fill="#00ff73" stroke="#00ff73"/>
<polygon points="219.5,298.4 221.8,294.5 235.2,300.2 225.3,300.9" fill="#00ff55" stroke="#00ff55"/>
<polygon points="221.8,294.5 224.3,290.2 246.1,299.4 235.2,300.2" fill="#00ff37" stroke="#00ff37"/>
<polygon points="224.3,290.2 227.9,284.1 262,298.2 246.1,299.4" fill="#00ff19" stroke="#00ff19"/>
<polygon points="227.9,284.1 234.1,273.4 277.3,290.8 281,296.8 262,298.2" fill="#04ff00" stroke="#04ff00"/>
<polygon points="234.1,273.4 241.7,260.4 263.9,269.1 277.3,290.8" fill="#22ff00" stroke="#22ff00"/>
<polygon points="241.7,260.4 247.9,249.7 253.2,251.7 263.9,269.1" fill="#40ff00" stroke="#40ff00"/>
<polygon points="247.9,249.7 249.9,246.4 253.2,251.7" fill="#5eff00" stroke="#5eff00"/>
<polygon points="252.8,334.8 247.3,342.3 235.7,326.2" fill="#00ffcc" stroke="#00ffcc"/>
<polygon points="257.6,328.4 252.8,334.8 235.7,326.2 226.1,313" fill="#00ffae" stroke="#00ffae"/>
<polygon points="260.9,323.9 257.6,328.4 226.1,313 219.4,303.7" fill="#00ff90" stroke="#00ff90"/>
<polygon points="217.8,301.4 225.3,300.9 264.1,319.6 260.9,323.9 219.4,303.7" fill="#00ff73" stroke="#00ff73"/>
<polygon points="225.3,300.9 235.2,300.2 267.2,315.5 264.1,319.6" fill="#00ff55" stroke="#00ff55"/>
<polygon points="235.2,300.2 246.1,299.4 270.6,310.9 267.2,315.5" fill="#00ff37" stroke="#00ff37"/>
<polygon points="246.1,299.4 262,298.2 275.4,304.4 270.6,310.9" fill="#00ff19" stroke="#00ff19"/>
<polygon points="262,298.2 281,296.8 275.4,304.4" fill="#04ff00" stroke="#04ff00"/>
<polygon points="184.7,334 187.5,331.3 197.3,335.6" fill="#00f7ff" stroke="#00f7ff"/>
<polygon points="187.5,331.3 197.8,321.1 246.3,342.2 197.3,335.6" fill="#00ffea" stroke="#00ffea"/>
<polygon points="197.8,321.1 205.6,313.4 235.7,326.2 247.3,342.3 246.3,342.2" fill="#00ffcc" stroke="#00ffcc"/>
<polygon points="205.6,313.4 212,307.1 226.1,313 235.7,326.2" fill="#00ffae" stroke="#00ffae"/>
<polygon points="212,307.1 216.7,302.5 219.4,303.7 226.1,313" fill="#00ff90" stroke="#00ff90"/>
<polygon points="216.7,302.5 217.8,301.4 219.4,303.7" fill="#00ff73" stroke="#00ff73"/>
<polygon points="215.1,374.2 213,376.3 210.1,371.9" fill="#00bbff" stroke="#00bbff"/>
<polygon points="225.8,363.6 215.1,374.2 210.1,371.9 195.2,349.7" fill="#00d9ff" stroke="#00d9ff"/>
<polygon points="184.7,334 197.3,335.6 236.4,353.1 225.8,363.6 195.2,349.7" fill="#00f7ff" stroke="#00f7ff"/>
<polygon points="197.3,335.6 246.3,342.2 247.1,342.5 236.4,353.1" fill="#00ffea" stroke="#00ffea"/>
<polygon points="246.3,342.2 247.3,342.3 247.1,342.5" fill="#00ffcc" stroke="#00ffcc"/>
<polygon points="153.2,404.6 156.6,397 161.6,400.6" fill="#0026ff" stroke="#0026ff"/>
<polygon points="156.6,397 160.8,387.6 172,395.7 161.6,400.6" fill="#0044ff" stroke="#0044ff"/>
<polygon points="160.8,387.6 165,378.3 182.6,390.7 172,395.7" fill="#0062ff" stroke="#0062ff"/>
<polygon points="165,378.3 169.1,368.9 193.3,385.6 182.6,390.7" fill="#0080ff" stroke="#0080ff"/>
<polygon points="169.1,368.9 173.3,359.6 204.1,380.5 193.3,385.6" fill="#009dff" stroke="#009dff"/>
<polygon points="173.3,359.6 177.5,350.2 210.1,371.9 213,376.3 204.1,380.5" fill="#00bbff" stroke="#00bbff"/>
<polygon points="177.5,350.2 181.7,340.8 195.2,349.7 210.1,371.9" fill="#00d9ff" stroke="#00d9ff"/>
<polygon points="181.7,340.8 184.7,334 195.2,349.7" fill="#00f7ff" stroke="#00f7ff"/>
<polygon points="153.2,404.6 161.6,400.6 184.1,424.2 179.4,431.8" fill="#0026ff" stroke="#0026ff"/>
<polygon points="161.6,400.6 172,395.7 190.1,414.2 184.1,424.2" fill="#0044ff" stroke="#0044ff"/>
<polygon points="172,395.7 182.6,390.7 196.1,404.2 190.1,414.2" fill="#0062ff" stroke="#0062ff"/>
<polygon points="182.6,390.7 193.3,385.6 202.1,394.3 196.1,404.2" fill="#0080ff" stroke="#0080ff"/>
<polygon points="193.3,385.6 204.1,380.5 208.2,384.3 202.1,394.3" fill="#009dff" stroke="#009dff"/>
<polygon points="204.1,380.5 213,376.3 208.2,384.3" fill="#00bbff" stroke="#00bbff"/>
<polygon points="685.7,190.1 710.1,202.4 670.1,191.7" fill="#d4ff00" stroke="#d4ff00"/>
<polygon points="634.9,182.4 664.4,179.3 685.7,190.1 670.1,191.7" fill="#f2ff00" stroke="#f2ff00"/>
<polygon points="670.1,191.7 710.1,202.4 679.7,205.7 655.8,193.3" fill="#d4ff00" stroke="#d4ff00"/>
<polygon points="634.9,182.4 670.1,191.7 655.8,193.3" fill="#f2ff00" stroke="#f2ff00"/>
<polygon points="655.8,193.3 679.7,205.7 639.9,195" fill="#d4ff00" stroke="#d4ff00"/>
<polygon points="604.9,185.6 634.9,182.4 655.8,193.3 639.9,195" fill="#f2ff00" stroke="#f2ff00"/>
<polygon points="639.9,195 679.7,205.7 648.9,209.2 625.4,196.6" fill="#d4ff00" stroke="#d4ff00"/>
<polygon points="604.9,185.6 639.9,195 625.4,196.6" fill="#f2ff00" stroke="#f2ff00"/>
<polygon points="625.4,196.6 648.9,209.2 609.2,198.3" fill="#d4ff00" stroke="#d4ff00"/>
<polygon points="574.4,188.7 604.9,185.6 625.4,196.6 609.2,198.3" fill="#f2ff00" stroke="#f2ff00"/>
<polygon points="609.2,198.3 648.9,209.2 617.5,212.7 594.5,199.9" fill="#d4ff00" stroke="#d4ff00"/>
<polygon points="574.4,188.7 609.2,198.3 594.5,199.9" fill="#f2ff00" stroke="#f2ff00"/>
<polygon points="594.5,199.9 617.5,212.7 578.1,201.6" fill="#d4ff00" stroke="#d4ff00"/>
<polygon points="543.6,192 574.4,188.7 594.5,199.9 578.1,201.6" fill="#f2ff00" stroke="#f2ff00"/>
<polygon points="578.1,201.6 617.5,212.7 585.7,216.2 563.2,203.2" fill="#d4ff00" stroke="#d4ff00"/>
<polygon points="543.6,192 578.1,201.6 563.2,203.2" fill="#f2ff00" stroke="#f2ff00"/>
<polygon points="563.2,203.2 585.7,216.2 546.5,205" fill="#d4ff00" stroke="#d4ff00"/>
<polygon points="512.2,195.2 543.6,192 563.2,203.2 546.5,205" fill="#f2ff00" stroke="#f2ff00"/>
<polygon points="546.5,205 585.7,216.2 553.4,219.8 531.4,206.7" fill="#d4ff00" stroke="#d4ff00"/>
<polygon points="512.2,195.2 546.5,205 531.4,206.7" fill="#f2ff00" stroke="#f2ff00"/>
<polygon points="531.4,206.7 553.4,219.8 514.5,208.5" fill="#d4ff00" stroke="#d4ff00"/>
<polygon points="480.4,198.5 512.2,195.2 531.4,206.7 514.5,208.5" fill="#f2ff00" stroke="#f2ff00"/>
<polygon points="514.5,208.5 553.4,219.8 520.5,229.4 489.6,205.7" fill="#d4ff00" stroke="#d4ff00"/>
<polygon points="480.4,198.5 514.5,208.5 489.6,205.7" fill="#f2ff00" stroke="#f2ff00"/>
<polygon points="489.6,205.7 520.5,229.4 464.9,208.3" fill="#d4ff00" stroke="#d4ff00"/>
<polygon points="448.1,201.9 480.4,198.5 489.6,205.7 464.9,208.3" fill="#f2ff00" stroke="#f2ff00"/>
<polygon points="464.9,208.3 520.5,229.4 487.2,233.2 457.1,209.1" fill="#d4ff00" stroke="#d4ff00"/>
<polygon points="448.1,201.9 464.9,208.3 457.1,209.1" fill="#f2ff00" stroke="#f2ff00"/>
<polygon points="415.3,211.2 432.5,206.3 457.1,209.1 487.2,233.2" fill="#d4ff00" stroke="#d4ff00"/>
<polygon points="432.5,206.3 448.1,201.9 457.1,209.1" fill="#f2ff00" stroke="#f2ff00"/>
<polygon points="460.4,245.8 453.3,249.1 447.9,243.7" fill="#99ff00" stroke="#99ff00"/>
<polygon points="486.6,233.4 460.4,245.8 447.9,243.7 428,223.9" fill="#b7ff00" stroke="#b7ff00"/>
<polygon points="415.3,211.2 487.2,233.2 486.6,233.4 428,223.9" fill="#d4ff00" stroke="#d4ff00"/>
<polygon points="382.3,232.2 386.8,229.3 447.9,243.7 453.3,249.1" fill="#99ff00" stroke="#99ff00"/>
<polygon points="386.8,229.3 404,218.4 428,223.9 447.9,243.7" fill="#b7ff00" stroke="#b7ff00"/>
<polygon points="404,218.4 415.3,211.2 428,223.9" fill="#d4ff00" stroke="#d4ff00"/>
<polygon points="421.5,269.7 419.1,271.2 416.5,268.4" fill="#5eff00" stroke="#5eff00"/>
<polygon points="440.4,257.5 421.5,269.7 416.5,268.4 396,246.7" fill="#7bff00" stroke="#7bff00"/>
<polygon points="382.3,232.2 453.3,249.1 440.4,257.5 396,246.7" fill="#99ff00" stroke="#99ff00"/>
<polygon points="416.5,268.4 419.1,271.2 404.3,266.3" fill="#5eff00" stroke="#5eff00"/>
<polygon points="348.7,247.7 363.2,241 396,246.7 416.5,268.4 404.3,266.3" fill="#7bff00" stroke="#7bff00"/>
<polygon points="363.2,241 382.3,232.2 396,246.7" fill="#99ff00" stroke="#99ff00"/>
<polygon points="392.4,283.8 384.5,287.5 378.9,281.3" fill="#40ff00" stroke="#40ff00"/>
<polygon points="404.3,266.3 419.1,271.2 392.4,283.8 378.9,281.3 357.9,257.9" fill="#5eff00" stroke="#5eff00"/>
<polygon points="348.7,247.7 404.3,266.3 357.9,257.9" fill="#7bff00" stroke="#7bff00"/>
<polygon points="378.9,281.3 384.5,287.5 352.2,276.3" fill="#40ff00" stroke="#40ff00"/>
<polygon points="314.8,263.3 335.3,253.9 357.9,257.9 378.9,281.3 352.2,276.3" fill="#5eff00" stroke="#5eff00"/>
<polygon points="335.3,253.9 348.7,247.7 357.9,257.9" fill="#7bff00" stroke="#7bff00"/>
<polygon points="361.8,298.2 349.4,304.1 341,294.2" fill="#22ff00" stroke="#22ff00"/>
<polygon points="352.2,276.3 384.5,287.5 361.8,298.2 341,294.2 320.9,270.5" fill="#40ff00" stroke="#40ff00"/>
<polygon points="314.8,263.3 352.2,276.3 320.9,270.5" fill="#5eff00" stroke="#5eff00"/>
<polygon points="281,296.8 284.9,292.9 300.3,298.9" fill="#04ff00" stroke="#04ff00"/>
<polygon points="284.9,292.9 299.3,278.7 341,294.2 349.4,304.1 300.3,298.9" fill="#22ff00" stroke="#22ff00"/>
<polygon points="299.3,278.7 311.2,267 320.9,270.5 341,294.2" fill="#40ff00" stroke="#40ff00"/>
<polygon points="311.2,267 314.8,263.3 320.9,270.5" fill="#5eff00" stroke="#5eff00"/>
<polygon points="315.2,338.2 314.3,339.1 312.8,337.2" fill="#00ff55" stroke="#00ff55"/>
<polygon points="320.1,333.3 315.2,338.2 312.8,337.2 304.8,327.1" fill="#00ff37" stroke="#00ff37"/>
<polygon points="327.2,326.3 320.1,333.3 304.8,327.1 293.7,312.9" fill="#00ff19" stroke="#00ff19"/>
<polygon points="281,296.8 300.3,298.9 339.5,314 327.2,326.3 293.7,312.9" fill="#04ff00" stroke="#04ff00"/>
<polygon points="300.3,298.9 349.4,304.1 339.5,314" fill="#22ff00" stroke="#22ff00"/>
<polygon points="247.3,342.3 252.8,334.8 266.1,341.4" fill="#00ffcc" stroke="#00ffcc"/>
<polygon points="252.8,334.8 257.6,328.4 282.3,340.6 266.1,341.4" fill="#00ffae" stroke="#00ffae"/>
<polygon points="257.6,328.4 260.9,323.9 294.2,340.1 282.3,340.6" fill="#00ff90" stroke="#00ff90"/>
<polygon points="260.9,323.9 264.1,319.6 305.4,339.5 294.2,340.1" fill="#00ff73" stroke="#00ff73"/>
<polygon points="264.1,319.6 267.2,315.5 312.8,337.2 314.3,339.1 305.4,339.5" fill="#00ff55" stroke="#00ff55"/>
<polygon points="267.2,315.5 270.6,310.9 304.8,327.1 312.8,337.2" fill="#00ff37" stroke="#00ff37"/>
<polygon points="270.6,310.9 275.4,304.4 293.7,312.9 304.8,327.1" fill="#00ff19" stroke="#00ff19"/>
<polygon points="275.4,304.4 281,296.8 293.7,312.9" fill="#04ff00" stroke="#04ff00"/>
<polygon points="281.5,377.6 279.1,380.5 272.3,372.3" fill="#00f7ff" stroke="#00f7ff"/>
<polygon points="290.7,366.9 281.5,377.6 272.3,372.3 247.8,342.9" fill="#00ffea" stroke="#00ffea"/>
<polygon points="247.3,342.3 266.1,341.4 297.6,358.7 290.7,366.9 247.8,342.9" fill="#00ffcc" stroke="#00ffcc"/>
<polygon points="266.1,341.4 282.3,340.6 303.3,352 297.6,358.7" fill="#00ffae" stroke="#00ffae"/>
<polygon points="282.3,340.6 294.2,340.1 307.4,347.2 303.3,352" fill="#00ff90" stroke="#00ff90"/>
<polygon points="294.2,340.1 305.4,339.5 311.3,342.6 307.4,347.2" fill="#00ff73" stroke="#00ff73"/>
<polygon points="305.4,339.5 314.3,339.1 311.3,342.6" fill="#00ff55" stroke="#00ff55"/>
<polygon points="213,376.3 215.1,374.2 219.5,376.7" fill="#00bbff" stroke="#00bbff"/>
<polygon points="215.1,374.2 225.8,363.6 253.3,378.9 219.5,376.7" fill="#00d9ff" stroke="#00d9ff"/>
<polygon points="225.8,363.6 236.4,353.1 272.3,372.3 279.1,380.5 253.3,378.9" fill="#00f7ff" stroke="#00f7ff"/>
<polygon points="236.4,353.1 247.1,342.5 247.8,342.9 272.3,372.3" fill="#00ffea" stroke="#00ffea"/>
<polygon points="247.1,342.5 247.3,342.3 247.8,342.9" fill="#00ffcc" stroke="#00ffcc"/>
<polygon points="213,376.3 219.5,376.7 255,400.4 243.3,410" fill="#00bbff" stroke="#00bbff"/>
<polygon points="219.5,376.7 253.3,378.9 268.9,388.9 255,400.4" fill="#00d9ff" stroke="#00d9ff"/>
<polygon points="253.3,378.9 279.1,380.5 268.9,388.9" fill="#00f7ff" stroke="#00f7ff"/>
<polygon points="179.4,431.8 184.1,424.2 189,428.6" fill="#0026ff" stroke="#0026ff"/>
<polygon points="184.1,424.2 190.1,414.2 201.7,424.2 189,428.6" fill="#0044ff" stroke="#0044ff"/>
<polygon points="190.1,414.2 196.1,404.2 214.6,419.8 201.7,424.2" fill="#0062ff" stroke="#0062ff"/>
<polygon points="196.1,404.2 202.1,394.3 227.7,415.3 214.6,419.8" fill="#0080ff" stroke="#0080ff"/>
<polygon points="202.1,394.3 208.2,384.3 241.1,410.8 227.7,415.3" fill="#009dff" stroke="#009dff"/>
<polygon points="208.2,384.3 213,376.3 243.3,410 241.1,410.8" fill="#00bbff" stroke="#00bbff"/>
<polygon points="179.4,431.8 189,428.6 213.4,453.9 208,461.9" fill="#0026ff" stroke="#0026ff"/>
<polygon points="189,428.6 201.7,424.2 220.6,443.3 213.4,453.9" fill="#0044ff" stroke="#0044ff"/>
<polygon points="201.7,424.2 214.6,419.8 227.8,432.8 220.6,443.3" fill="#0062ff" stroke="#0062ff"/>
<polygon points="214.6,419.8 227.7,415.3 234.9,422.3 227.8,432.8" fill="#0080ff" stroke="#0080ff"/>
<polygon points="227.7,415.3 241.1,410.8 242.1,411.7 234.9,422.3" fill="#009dff" stroke="#009dff"/>
<polygon points="241.1,410.8 243.3,410 242.1,411.7" fill="#00bbff" stroke="#00bbff"/>
<polygon points="679.7,205.7 710.1,202.4 759.6,227.3" fill="#d4ff00" stroke="#d4ff00"/>
<polygon points="679.7,205.7 759.6,227.3 728.3,231" fill="#d4ff00" stroke="#d4ff00"/>
<polygon points="648.9,209.2 679.7,205.7 728.3,231" fill="#d4ff00" stroke="#d4ff00"/>
<polygon points="648.9,209.2 728.3,231 696.5,234.8" fill="#d4ff00" stroke="#d4ff00"/>
<polygon points="617.5,212.7 648.9,209.2 696.5,234.8" fill="#d4ff00" stroke="#d4ff00"/>
<polygon points="617.5,212.7 696.5,234.8 664.3,238.6" fill="#d4ff00" stroke="#d4ff00"/>
<polygon points="585.7,216.2 617.5,212.7 664.3,238.6" fill="#d4ff00" stroke="#d4ff00"/>
<polygon points="585.7,216.2 664.3,238.6 631.4,242.5" fill="#d4ff00" stroke="#d4ff00"/>
<polygon points="553.4,219.8 585.7,216.2 631.4,242.5" fill="#d4ff00" stroke="#d4ff00"/>
<polygon points="553.4,219.8 631.4,242.5 598.1,246.5" fill="#d4ff00" stroke="#d4ff00"/>
<polygon points="520.5,229.4 553.4,219.8 598.1,246.5" fill="#d4ff00" stroke="#d4ff00"/>
<polygon points="597,246.8 564.1,256.7 521.8,230.2" fill="#b7ff00" stroke="#b7ff00"/>
<polygon points="520.5,229.4 598.1,246.5 597,246.8 521.8,230.2" fill="#d4ff00" stroke="#d4ff00"/>
<polygon points="521.8,230.2 564.1,256.7 489.5,233.9" fill="#b7ff00" stroke="#b7ff00"/>
<polygon points="487.2,233.2 520.5,229.4 521.8,230.2 489.5,233.9" fill="#d4ff00" stroke="#d4ff00"/>
<polygon points="543.9,262.8 529.6,267.1 520.6,259.8" fill="#99ff00" stroke="#99ff00"/>
<polygon points="489.5,233.9 564.1,256.7 543.9,262.8 520.6,259.8 487.8,233.7" fill="#b7ff00" stroke="#b7ff00"/>
<polygon points="487.2,233.2 489.5,233.9 487.8,233.7" fill="#d4ff00" stroke="#d4ff00"/>
<polygon points="453.3,249.1 460.4,245.8 520.6,259.8 529.6,267.1" fill="#99ff00" stroke="#99ff00"/>
<polygon points="460.4,245.8 486.6,233.4 487.8,233.7 520.6,259.8" fill="#b7ff00" stroke="#b7ff00"/>
<polygon points="486.6,233.4 487.2,233.2 487.8,233.7" fill="#d4ff00" stroke="#d4ff00"/>
<polygon points="509.7,276.7 494.6,283.9 476.5,268.6" fill="#7bff00" stroke="#7bff00"/>
<polygon points="453.3,249.1 529.6,267.1 509.7,276.7 476.5,268.6" fill="#99ff00" stroke="#99ff00"/>
<polygon points="419.1,271.2 421.5,269.7 434.2,273.7" fill="#5eff00" stroke="#5eff00"/>
<polygon points="421.5,269.7 440.4,257.5 476.5,268.6 494.6,283.9 434.2,273.7" fill="#7bff00" stroke="#7bff00"/>
<polygon points="440.4,257.5 453.3,249.1 476.5,268.6" fill="#99ff00" stroke="#99ff00"/>
<polygon points="464.6,303.7 459.2,307.2 449.8,298.7" fill="#40ff00" stroke="#40ff00"/>
<polygon points="419.1,271.2 434.2,273.7 485.3,290.1 464.6,303.7 449.8,298.7" fill="#5eff00" stroke="#5eff00"/>
<polygon points="434.2,273.7 494.6,283.9 485.3,290.1" fill="#7bff00" stroke="#7bff00"/>
<polygon points="384.5,287.5 392.4,283.8 449.8,298.7 459.2,307.2" fill="#40ff00" stroke="#40ff00"/>
<polygon points="392.4,283.8 419.1,271.2 449.8,298.7" fill="#5eff00" stroke="#5eff00"/>
<polygon points="436,318.4 423.3,324.5 409.2,311.1" fill="#22ff00" stroke="#22ff00"/>
<polygon points="384.5,287.5 459.2,307.2 436,318.4 409.2,311.1" fill="#40ff00" stroke="#40ff00"/>
<polygon points="349.4,304.1 361.8,298.2 409.2,311.1 423.3,324.5" fill="#22ff00" stroke="#22ff00"/>
<polygon points="361.8,298.2 384.5,287.5 409.2,311.1" fill="#40ff00" stroke="#40ff00"/>
<polygon points="406.1,335.7 387,348.3 366.8,324.5" fill="#04ff00" stroke="#04ff00"/>
<polygon points="349.4,304.1 423.3,324.5 406.1,335.7 366.8,324.5" fill="#22ff00" stroke="#22ff00"/>
<polygon points="314.3,339.1 315.2,338.2 318.9,339.7" fill="#00ff55" stroke="#00ff55"/>
<polygon points="315.2,338.2 320.1,333.3 343.8,342.8 318.9,339.7" fill="#00ff37" stroke="#00ff37"/>
<polygon points="320.1,333.3 327.2,326.3 380.6,347.5 343.8,342.8" fill="#00ff19" stroke="#00ff19"/>
<polygon points="327.2,326.3 339.5,314 366.8,324.5 387,348.3 380.6,347.5" fill="#04ff00" stroke="#04ff00"/>
<polygon points="339.5,314 349.4,304.1 366.8,324.5" fill="#22ff00" stroke="#22ff00"/>
<polygon points="351.6,377.8 350.4,378.7 347.9,376.1" fill="#00ffae" stroke="#00ffae"/>
<polygon points="358,372.4 351.6,377.8 347.9,376.1 335,361.9" fill="#00ff90" stroke="#00ff90"/>
<polygon points="364,367.4 358,372.4 335,361.9 323.2,348.9" fill="#00ff73" stroke="#00ff73"/>
<polygon points="314.3,339.1 318.9,339.7 369.9,362.5 364,367.4 323.2,348.9" fill="#00ff55" stroke="#00ff55"/>
<polygon points="318.9,339.7 343.8,342.8 376.3,357.2 369.9,362.5" fill="#00ff37" stroke="#00ff37"/>
<polygon points="343.8,342.8 380.6,347.5 385.4,349.6 376.3,357.2" fill="#00ff19" stroke="#00ff19"/>
<polygon points="380.6,347.5 387,348.3 385.4,349.6" fill="#04ff00" stroke="#04ff00"/>
<polygon points="279.1,380.5 281.5,377.6 286.2,380.3" fill="#00f7ff" stroke="#00f7ff"/>
<polygon points="281.5,377.6 290.7,366.9 313.5,379.7 286.2,380.3" fill="#00ffea" stroke="#00ffea"/>
<polygon points="290.7,366.9 297.6,358.7 334.8,379.1 313.5,379.7" fill="#00ffcc" stroke="#00ffcc"/>
<polygon points="297.6,358.7 303.3,352 347.9,376.1 350.4,378.7 334.8,379.1" fill="#00ffae" stroke="#00ffae"/>
<polygon points="303.3,352 307.4,347.2 335,361.9 347.9,376.1" fill="#00ff90" stroke="#00ff90"/>
<polygon points="307.4,347.2 311.3,342.6 323.2,348.9 335,361.9" fill="#00ff73" stroke="#00ff73"/>
<polygon points="311.3,342.6 314.3,339.1 323.2,348.9" fill="#00ff55" stroke="#00ff55"/>
<polygon points="319,415.9 313.7,422.1 298.5,403.8" fill="#00d9ff" stroke="#00d9ff"/>
<polygon points="279.1,380.5 286.2,380.3 328.5,404.6 319,415.9 298.5,403.8" fill="#00f7ff" stroke="#00f7ff"/>
<polygon points="286.2,380.3 313.5,379.7 338,393.4 328.5,404.6" fill="#00ffea" stroke="#00ffea"/>
<polygon points="313.5,379.7 334.8,379.1 345.2,384.9 338,393.4" fill="#00ffcc" stroke="#00ffcc"/>
<polygon points="334.8,379.1 350.4,378.7 345.2,384.9" fill="#00ffae" stroke="#00ffae"/>
<polygon points="243.3,410 255,400.4 288.5,417.8" fill="#00bbff" stroke="#00bbff"/>
<polygon points="255,400.4 268.9,388.9 298.5,403.8 313.7,422.1 288.5,417.8" fill="#00d9ff" stroke="#00d9ff"/>
<polygon points="268.9,388.9 279.1,380.5 298.5,403.8" fill="#00f7ff" stroke="#00f7ff"/>
<polygon points="285.6,440.6 276.3,446.8 251.4,419" fill="#009dff" stroke="#009dff"/>
<polygon points="243.3,410 288.5,417.8 305,427.8 285.6,440.6 251.4,419" fill="#00bbff" stroke="#00bbff"/>
<polygon points="288.5,417.8 313.7,422.1 305,427.8" fill="#00d9ff" stroke="#00d9ff"/>
<polygon points="208,461.9 213.4,453.9 219.6,459.3" fill="#0026ff" stroke="#0026ff"/>
<polygon points="213.4,453.9 220.6,443.3 235.3,455.8 219.6,459.3" fill="#0044ff" stroke="#0044ff"/>
<polygon points="220.6,443.3 227.8,432.8 251.3,452.3 235.3,455.8" fill="#0062ff" stroke="#0062ff"/>
<polygon points="227.8,432.8 234.9,422.3 267.7,448.7 251.3,452.3" fill="#0080ff" stroke="#0080ff"/>
<polygon points="234.9,422.3 242.1,411.7 251.4,419 276.3,446.8 267.7,448.7" fill="#009dff" stroke="#009dff"/>
<polygon points="242.1,411.7 243.3,410 251.4,419" fill="#00bbff" stroke="#00bbff"/>
<polygon points="208,461.9 219.6,459.3 245.9,486.3 239.2,494.9" fill="#0026ff" stroke="#0026ff"/>
<polygon points="219.6,459.3 235.3,455.8 254.5,475.1 245.9,486.3" fill="#0044ff" stroke="#0044ff"/>
<polygon points="235.3,455.8 251.3,452.3 263.2,463.8 254.5,475.1" fill="#0062ff" stroke="#0062ff"/>
<polygon points="251.3,452.3 267.7,448.7 271.8,452.6 263.2,463.8" fill="#0080ff" stroke="#0080ff"/>
<polygon points="267.7,448.7 276.3,446.8 271.8,452.6" fill="#009dff" stroke="#009dff"/>
<polygon points="801.2,253.3 812.5,260.3 794.7,254.1" fill="#99ff00" stroke="#99ff00"/>
<polygon points="760.4,227.8 801.2,253.3 794.7,254.1 729.6,231.4" fill="#b7ff00" stroke="#b7ff00"/>
<polygon points="728.3,231 759.6,227.3 760.4,227.8 729.6,231.4" fill="#d4ff00" stroke="#d4ff00"/>
<polygon points="794.7,254.1 812.5,260.3 780.4,264.5 769.2,257.3" fill="#99ff00" stroke="#99ff00"/>
<polygon points="729.6,231.4 794.7,254.1 769.2,257.3 729.1,231.5" fill="#b7ff00" stroke="#b7ff00"/>
<polygon points="728.3,231 729.6,231.4 729.1,231.5" fill="#d4ff00" stroke="#d4ff00"/>
<polygon points="769.2,257.3 780.4,264.5 762.6,258.2" fill="#99ff00" stroke="#99ff00"/>
<polygon points="729.1,231.5 769.2,257.3 762.6,258.2 697.8,235.2" fill="#b7ff00" stroke="#b7ff00"/>
<polygon points="696.5,234.8 728.3,231 729.1,231.5 697.8,235.2" fill="#d4ff00" stroke="#d4ff00"/>
<polygon points="762.6,258.2 780.4,264.5 747.6,268.7 736.7,261.4" fill="#99ff00" stroke="#99ff00"/>
<polygon points="697.8,235.2 762.6,258.2 736.7,261.4 697.3,235.3" fill="#b7ff00" stroke="#b7ff00"/>
<polygon points="696.5,234.8 697.8,235.2 697.3,235.3" fill="#d4ff00" stroke="#d4ff00"/>
<polygon points="736.7,261.4 747.6,268.7 729.9,262.3" fill="#99ff00" stroke="#99ff00"/>
<polygon points="697.3,235.3 736.7,261.4 729.9,262.3 665.5,239.1" fill="#b7ff00" stroke="#b7ff00"/>
<polygon points="664.3,238.6 696.5,234.8 697.3,235.3 665.5,239.1" fill="#d4ff00" stroke="#d4ff00"/>
<polygon points="729.9,262.3 747.6,268.7 714.4,273 703.7,265.6" fill="#99ff00" stroke="#99ff00"/>
<polygon points="665.5,239.1 729.9,262.3 703.7,265.6 665,239.1" fill="#b7ff00" stroke="#b7ff00"/>
<polygon points="664.3,238.6 665.5,239.1 665,239.1" fill="#d4ff00" stroke="#d4ff00"/>
<polygon points="703.7,265.6 714.4,273 696.8,266.5" fill="#99ff00" stroke="#99ff00"/>
<polygon points="665,239.1 703.7,265.6 696.8,266.5 632.7,243" fill="#b7ff00" stroke="#b7ff00"/>
<polygon points="631.4,242.5 664.3,238.6 665,239.1 632.7,243" fill="#d4ff00" stroke="#d4ff00"/>
<polygon points="696.8,266.5 714.4,273 680.6,277.3 670.1,269.9" fill="#99ff00" stroke="#99ff00"/>
<polygon points="632.7,243 696.8,266.5 670.1,269.9 632.2,243" fill="#b7ff00" stroke="#b7ff00"/>
<polygon points="631.4,242.5 632.7,243 632.2,243" fill="#d4ff00" stroke="#d4ff00"/>
<polygon points="670.1,269.9 680.6,277.3 663.1,270.8" fill="#99ff00" stroke="#99ff00"/>
<polygon points="632.2,243 670.1,269.9 663.1,270.8 599.3,246.9" fill="#b7ff00" stroke="#b7ff00"/>
<polygon points="598.1,246.5 631.4,242.5 632.2,243 599.3,246.9" fill="#d4ff00" stroke="#d4ff00"/>
<polygon points="663.1,270.8 680.6,277.3 646.2,281.7 635.9,274.2" fill="#99ff00" stroke="#99ff00"/>
<polygon points="599.3,246.9 663.1,270.8 635.9,274.2 598.8,247" fill="#b7ff00" stroke="#b7ff00"/>
<polygon points="598.1,246.5 599.3,246.9 598.8,247" fill="#d4ff00" stroke="#d4ff00"/>
<polygon points="635.9,274.2 646.2,281.7 611.6,271.2" fill="#99ff00" stroke="#99ff00"/>
<polygon points="564.1,256.7 597,246.8 598.8,247 635.9,274.2 611.6,271.2" fill="#b7ff00" stroke="#b7ff00"/>
<polygon points="597,246.8 598.1,246.5 598.8,247" fill="#d4ff00" stroke="#d4ff00"/>
<polygon points="611.6,271.2 646.2,281.7 611.2,286.3 591.2,273.7" fill="#99ff00" stroke="#99ff00"/>
<polygon points="564.1,256.7 611.6,271.2 591.2,273.7" fill="#b7ff00" stroke="#b7ff00"/>
<polygon points="529.6,267.1 543.9,262.8 591.2,273.7 611.2,286.3" fill="#99ff00" stroke="#99ff00"/>
<polygon points="543.9,262.8 564.1,256.7 591.2,273.7" fill="#b7ff00" stroke="#b7ff00"/>
<polygon points="590.8,296.3 575.4,303.8 555.3,287.7" fill="#7bff00" stroke="#7bff00"/>
<polygon points="529.6,267.1 611.2,286.3 590.8,296.3 555.3,287.7" fill="#99ff00" stroke="#99ff00"/>
<polygon points="494.6,283.9 509.7,276.7 555.3,287.7 575.4,303.8" fill="#7bff00" stroke="#7bff00"/>
<polygon points="509.7,276.7 529.6,267.1 555.3,287.7" fill="#99ff00" stroke="#99ff00"/>
<polygon points="561.1,310.9 539.2,321.6 511.9,298.5" fill="#5eff00" stroke="#5eff00"/>
<polygon points="494.6,283.9 575.4,303.8 561.1,310.9 511.9,298.5" fill="#7bff00" stroke="#7bff00"/>
<polygon points="459.2,307.2 464.6,303.7 494.8,313.6" fill="#40ff00" stroke="#40ff00"/>
<polygon points="464.6,303.7 485.3,290.1 511.9,298.5 539.2,321.6 494.8,313.6" fill="#5eff00" stroke="#5eff00"/>
<polygon points="485.3,290.1 494.6,283.9 511.9,298.5" fill="#7bff00" stroke="#7bff00"/>
<polygon points="511.1,340.4 502.4,346.2 486.7,332.1" fill="#22ff00" stroke="#22ff00"/>
<polygon points="459.2,307.2 494.8,313.6 532.5,326.1 511.1,340.4 486.7,332.1" fill="#40ff00" stroke="#40ff00"/>
<polygon points="494.8,313.6 539.2,321.6 532.5,326.1" fill="#5eff00" stroke="#5eff00"/>
<polygon points="423.3,324.5 436,318.4 486.7,332.1 502.4,346.2" fill="#22ff00" stroke="#22ff00"/>
<polygon points="436,318.4 459.2,307.2 486.7,332.1" fill="#40ff00" stroke="#40ff00"/>
<polygon points="476,359.2 465.2,364.5 452.6,352.6" fill="#04ff00" stroke="#04ff00"/>
<polygon points="423.3,324.5 502.4,346.2 476,359.2 452.6,352.6" fill="#22ff00" stroke="#22ff00"/>
<polygon points="387,348.3 406.1,335.7 452.6,352.6 465.2,364.5" fill="#04ff00" stroke="#04ff00"/>
<polygon points="406.1,335.7 423.3,324.5 452.6,352.6" fill="#22ff00" stroke="#22ff00"/>
<polygon points="429.1,388.6 427.4,389.7 424.7,386.9" fill="#00ff55" stroke="#00ff55"/>
<polygon points="437.9,382.7 429.1,388.6 424.7,386.9 410.2,372.1" fill="#00ff37" stroke="#00ff37"/>
<polygon points="450.5,374.3 437.9,382.7 410.2,372.1 390.3,351.7" fill="#00ff19" stroke="#00ff19"/>
<polygon points="387,348.3 465.2,364.5 450.5,374.3 390.3,351.7" fill="#04ff00" stroke="#04ff00"/>
<polygon points="350.4,378.7 351.6,377.8 355.2,379.4" fill="#00ffae" stroke="#00ffae"/>
<polygon points="351.6,377.8 358,372.4 381.6,383.2 355.2,379.4" fill="#00ff90" stroke="#00ff90"/>
<polygon points="358,372.4 364,367.4 407.2,386.8 381.6,383.2" fill="#00ff73" stroke="#00ff73"/>
<polygon points="364,367.4 369.9,362.5 424.7,386.9 427.4,389.7 407.2,386.8" fill="#00ff55" stroke="#00ff55"/>
<polygon points="369.9,362.5 376.3,357.2 410.2,372.1 424.7,386.9" fill="#00ff37" stroke="#00ff37"/>
<polygon points="376.3,357.2 385.4,349.6 390.3,351.7 410.2,372.1" fill="#00ff19" stroke="#00ff19"/>
<polygon points="385.4,349.6 387,348.3 390.3,351.7" fill="#04ff00" stroke="#04ff00"/>
<polygon points="400.4,412.5 389.4,421.7 366.5,396.5" fill="#00ffcc" stroke="#00ffcc"/>
<polygon points="350.4,378.7 355.2,379.4 409.7,404.6 400.4,412.5 366.5,396.5" fill="#00ffae" stroke="#00ffae"/>
<polygon points="355.2,379.4 381.6,383.2 416.4,399 409.7,404.6" fill="#00ff90" stroke="#00ff90"/>
<polygon points="381.6,383.2 407.2,386.8 422.6,393.8 416.4,399" fill="#00ff73" stroke="#00ff73"/>
<polygon points="407.2,386.8 427.4,389.7 422.6,393.8" fill="#00ff55" stroke="#00ff55"/>
<polygon points="313.7,422.1 319,415.9 329.4,422" fill="#00d9ff" stroke="#00d9ff"/>
<polygon points="319,415.9 328.5,404.6 358.6,421.9 329.4,422" fill="#00f7ff" stroke="#00f7ff"/>
<polygon points="328.5,404.6 338,393.4 388.8,421.7 358.6,421.9" fill="#00ffea" stroke="#00ffea"/>
<polygon points="338,393.4 345.2,384.9 366.5,396.5 389.4,421.7 388.8,421.7" fill="#00ffcc" stroke="#00ffcc"/>
<polygon points="345.2,384.9 350.4,378.7 366.5,396.5" fill="#00ffae" stroke="#00ffae"/>
<polygon points="359.5,457.3 351.2,467.2 326.4,437.4" fill="#00bbff" stroke="#00bbff"/>
<polygon points="313.7,422.1 329.4,422 369.4,445.5 359.5,457.3 326.4,437.4" fill="#00d9ff" stroke="#00d9ff"/>
<polygon points="329.4,422 358.6,421.9 379.3,433.7 369.4,445.5" fill="#00f7ff" stroke="#00f7ff"/>
<polygon points="358.6,421.9 388.8,421.7 389.2,422 379.3,433.7" fill="#00ffea" stroke="#00ffea"/>
<polygon points="388.8,421.7 389.4,421.7 389.2,422" fill="#00ffcc" stroke="#00ffcc"/>
<polygon points="276.3,446.8 285.6,440.6 331.6,461.9" fill="#009dff" stroke="#009dff"/>
<polygon points="285.6,440.6 305,427.8 326.4,437.4 351.2,467.2 331.6,461.9" fill="#00bbff" stroke="#00bbff"/>
<polygon points="305,427.8 313.7,422.1 326.4,437.4" fill="#00d9ff" stroke="#00d9ff"/>
<polygon points="315.8,484.9 312.1,486.8 305,478.8" fill="#0080ff" stroke="#0080ff"/>
<polygon points="276.3,446.8 331.6,461.9 346.2,469.7 315.8,484.9 305,478.8" fill="#009dff" stroke="#009dff"/>
<polygon points="331.6,461.9 351.2,467.2 346.2,469.7" fill="#00bbff" stroke="#00bbff"/>
<polygon points="239.2,494.9 245.9,486.3 254,493.3" fill="#0026ff" stroke="#0026ff"/>
<polygon points="245.9,486.3 254.5,475.1 273.7,491.1 254,493.3" fill="#0044ff" stroke="#0044ff"/>
<polygon points="254.5,475.1 263.2,463.8 293.9,488.8 273.7,491.1" fill="#0062ff" stroke="#0062ff"/>
<polygon points="263.2,463.8 271.8,452.6 305,478.8 312.1,486.8 293.9,488.8" fill="#0080ff" stroke="#0080ff"/>
<polygon points="271.8,452.6 276.3,446.8 305,478.8" fill="#009dff" stroke="#009dff"/>
<polygon points="239.2,494.9 254,493.3 281.4,521.5 273.1,530.7" fill="#0026ff" stroke="#0026ff"/>
<polygon points="254,493.3 273.7,491.1 292,509.4 281.4,521.5" fill="#0044ff" stroke="#0044ff"/>
<polygon points="273.7,491.1 293.9,488.8 302.7,497.3 292,509.4" fill="#0062ff" stroke="#0062ff"/>
<polygon points="293.9,488.8 312.1,486.8 302.7,497.3" fill="#0080ff" stroke="#0080ff"/>
<polygon points="844.5,280.3 869.5,296 830.5,282.2" fill="#7bff00" stroke="#7bff00"/>
<polygon points="780.4,264.5 812.5,260.3 844.5,280.3 830.5,282.2" fill="#99ff00" stroke="#99ff00"/>
<polygon points="830.5,282.2 869.5,296 836.4,300.6 811.8,284.7" fill="#7bff00" stroke="#7bff00"/>
<polygon points="780.4,264.5 830.5,282.2 811.8,284.7" fill="#99ff00" stroke="#99ff00"/>
<polygon points="811.8,284.7 836.4,300.6 797.6,286.6" fill="#7bff00" stroke="#7bff00"/>
<polygon points="747.6,268.7 780.4,264.5 811.8,284.7 797.6,286.6" fill="#99ff00" stroke="#99ff00"/>
<polygon points="797.6,286.6 836.4,300.6 802.7,305.3 778.5,289.2" fill="#7bff00" stroke="#7bff00"/>
<polygon points="747.6,268.7 797.6,286.6 778.5,289.2" fill="#99ff00" stroke="#99ff00"/>
<polygon points="778.5,289.2 802.7,305.3 764.1,291.2" fill="#7bff00" stroke="#7bff00"/>
<polygon points="714.4,273 747.6,268.7 778.5,289.2 764.1,291.2" fill="#99ff00" stroke="#99ff00"/>
<polygon points="764.1,291.2 802.7,305.3 768.5,310.1 744.7,293.8" fill="#7bff00" stroke="#7bff00"/>
<polygon points="714.4,273 764.1,291.2 744.7,293.8" fill="#99ff00" stroke="#99ff00"/>
<polygon points="744.7,293.8 768.5,310.1 730,295.8" fill="#7bff00" stroke="#7bff00"/>
<polygon points="680.6,277.3 714.4,273 744.7,293.8 730,295.8" fill="#99ff00" stroke="#99ff00"/>
<polygon points="730,295.8 768.5,310.1 733.6,315 710.3,298.4" fill="#7bff00" stroke="#7bff00"/>
<polygon points="680.6,277.3 730,295.8 710.3,298.4" fill="#99ff00" stroke="#99ff00"/>
<polygon points="710.3,298.4 733.6,315 695.3,300.5" fill="#7bff00" stroke="#7bff00"/>
<polygon points="646.2,281.7 680.6,277.3 710.3,298.4 695.3,300.5" fill="#99ff00" stroke="#99ff00"/>
<polygon points="695.3,300.5 733.6,315 698.1,320 675.3,303.2" fill="#7bff00" stroke="#7bff00"/>
<polygon points="646.2,281.7 695.3,300.5 675.3,303.2" fill="#99ff00" stroke="#99ff00"/>
<polygon points="675.3,303.2 698.1,320 660.1,305.2" fill="#7bff00" stroke="#7bff00"/>
<polygon points="611.2,286.3 646.2,281.7 675.3,303.2 660.1,305.2" fill="#99ff00" stroke="#99ff00"/>
<polygon points="660.1,305.2 698.1,320 662,325 639.7,308" fill="#7bff00" stroke="#7bff00"/>
<polygon points="611.2,286.3 660.1,305.2 639.7,308" fill="#99ff00" stroke="#99ff00"/>
<polygon points="575.4,303.8 590.8,296.3 639.7,308 662,325" fill="#7bff00" stroke="#7bff00"/>
<polygon points="590.8,296.3 611.2,286.3 639.7,308" fill="#99ff00" stroke="#99ff00"/>
<polygon points="647.3,332.4 625,343.7 594.6,319.2" fill="#5eff00" stroke="#5eff00"/>
<polygon points="575.4,303.8 662,325 647.3,332.4 594.6,319.2" fill="#7bff00" stroke="#7bff00"/>
<polygon points="539.2,321.6 561.1,310.9 594.6,319.2 625,343.7" fill="#5eff00" stroke="#5eff00"/>
<polygon points="561.1,310.9 575.4,303.8 594.6,319.2" fill="#7bff00" stroke="#7bff00"/>
<polygon points="614.8,348.8 587.4,362.6 551.9,332.4" fill="#40ff00" stroke="#40ff00"/>
<polygon points="539.2,321.6 625,343.7 614.8,348.8 551.9,332.4" fill="#5eff00" stroke="#5eff00"/>
<polygon points="502.4,346.2 511.1,340.4 561.6,357.6" fill="#22ff00" stroke="#22ff00"/>
<polygon points="511.1,340.4 532.5,326.1 551.9,332.4 587.4,362.6 561.6,357.6" fill="#40ff00" stroke="#40ff00"/>
<polygon points="532.5,326.1 539.2,321.6 551.9,332.4" fill="#5eff00" stroke="#5eff00"/>
<polygon points="560.6,382.9 549.1,391.6 529,372" fill="#04ff00" stroke="#04ff00"/>
<polygon points="502.4,346.2 561.6,357.6 584.1,365.1 560.6,382.9 529,372" fill="#22ff00" stroke="#22ff00"/>
<polygon points="561.6,357.6 587.4,362.6 584.1,365.1" fill="#40ff00" stroke="#40ff00"/>
<polygon points="465.2,364.5 476,359.2 529,372 549.1,391.6" fill="#04ff00" stroke="#04ff00"/>
<polygon points="476,359.2 502.4,346.2 529,372" fill="#22ff00" stroke="#22ff00"/>
<polygon points="531.3,399.2 510.5,408.1 491.2,389.5" fill="#00ff19" stroke="#00ff19"/>
<polygon points="465.2,364.5 549.1,391.6 531.3,399.2 491.2,389.5" fill="#04ff00" stroke="#04ff00"/>
<polygon points="427.4,389.7 429.1,388.6 437.9,392" fill="#00ff55" stroke="#00ff55"/>
<polygon points="429.1,388.6 437.9,382.7 495.9,404.8 437.9,392" fill="#00ff37" stroke="#00ff37"/>
<polygon points="437.9,382.7 450.5,374.3 491.2,389.5 510.5,408.1 495.9,404.8" fill="#00ff19" stroke="#00ff19"/>
<polygon points="450.5,374.3 465.2,364.5 491.2,389.5" fill="#04ff00" stroke="#04ff00"/>
<polygon points="477.5,432.8 471.3,437.4 461.3,426.5" fill="#00ffae" stroke="#00ffae"/>
<polygon points="485.6,426.8 477.5,432.8 461.3,426.5 448.3,412.4" fill="#00ff90" stroke="#00ff90"/>
<polygon points="493.2,421.1 485.6,426.8 448.3,412.4 436.5,399.5" fill="#00ff73" stroke="#00ff73"/>
<polygon points="427.4,389.7 437.9,392 500.5,415.6 493.2,421.1 436.5,399.5" fill="#00ff55" stroke="#00ff55"/>
<polygon points="437.9,392 495.9,404.8 508.6,409.5 500.5,415.6" fill="#00ff37" stroke="#00ff37"/>
<polygon points="495.9,404.8 510.5,408.1 508.6,409.5" fill="#00ff19" stroke="#00ff19"/>
<polygon points="389.4,421.7 400.4,412.5 447.7,432.9" fill="#00ffcc" stroke="#00ffcc"/>
<polygon points="400.4,412.5 409.7,404.6 461.3,426.5 471.3,437.4 447.7,432.9" fill="#00ffae" stroke="#00ffae"/>
<polygon points="409.7,404.6 416.4,399 448.3,412.4 461.3,426.5" fill="#00ff90" stroke="#00ff90"/>
<polygon points="416.4,399 422.6,393.8 436.5,399.5 448.3,412.4" fill="#00ff73" stroke="#00ff73"/>
<polygon points="422.6,393.8 427.4,389.7 436.5,399.5" fill="#00ff55" stroke="#00ff55"/>
<polygon points="436.2,464.9 431.7,468.5 422.6,458.5" fill="#00f7ff" stroke="#00f7ff"/>
<polygon points="453.4,451.4 436.2,464.9 422.6,458.5 390,422.4" fill="#00ffea" stroke="#00ffea"/>
<polygon points="389.4,421.7 447.7,432.9 466.4,441.3 453.4,451.4 390,422.4" fill="#00ffcc" stroke="#00ffcc"/>
<polygon points="447.7,432.9 471.3,437.4 466.4,441.3" fill="#00ffae" stroke="#00ffae"/>
<polygon points="351.2,467.2 359.5,457.3 376.6,467.6" fill="#00bbff" stroke="#00bbff"/>
<polygon points="359.5,457.3 369.4,445.5 408,468.1 376.6,467.6" fill="#00d9ff" stroke="#00d9ff"/>
<polygon points="369.4,445.5 379.3,433.7 422.6,458.5 431.7,468.5 408,468.1" fill="#00f7ff" stroke="#00f7ff"/>
<polygon points="379.3,433.7 389.2,422 390,422.4 422.6,458.5" fill="#00ffea" stroke="#00ffea"/>
<polygon points="389.2,422 389.4,421.7 390,422.4" fill="#00ffcc" stroke="#00ffcc"/>
<polygon points="397.7,503.3 391.7,509.4 361.1,477.5" fill="#009dff" stroke="#009dff"/>
<polygon points="351.2,467.2 376.6,467.6 410.1,490.5 397.7,503.3 361.1,477.5" fill="#00bbff" stroke="#00bbff"/>
<polygon points="376.6,467.6 408,468.1 422.6,477.8 410.1,490.5" fill="#00d9ff" stroke="#00d9ff"/>
<polygon points="408,468.1 431.7,468.5 422.6,477.8" fill="#00f7ff" stroke="#00f7ff"/>
<polygon points="312.1,486.8 315.8,484.9 326.8,491" fill="#0080ff" stroke="#0080ff"/>
<polygon points="315.8,484.9 346.2,469.7 361.1,477.5 391.7,509.4 326.8,491" fill="#009dff" stroke="#009dff"/>
<polygon points="346.2,469.7 351.2,467.2 361.1,477.5" fill="#00bbff" stroke="#00bbff"/>
<polygon points="312.1,486.8 326.8,491 375.3,517.8 351,530.3" fill="#0080ff" stroke="#0080ff"/>
<polygon points="326.8,491 391.7,509.4 375.3,517.8" fill="#009dff" stroke="#009dff"/>
<polygon points="273.1,530.7 281.4,521.5 292.4,530.6" fill="#0026ff" stroke="#0026ff"/>
<polygon points="281.4,521.5 292,509.4 318.1,530.5 292.4,530.6" fill="#0044ff" stroke="#0044ff"/>
<polygon points="292,509.4 302.7,497.3 344.6,530.3 318.1,530.5" fill="#0062ff" stroke="#0062ff"/>
<polygon points="302.7,497.3 312.1,486.8 351,530.3 344.6,530.3" fill="#0080ff" stroke="#0080ff"/>
<polygon points="273.1,530.7 292.4,530.6 322.2,559.3 310.2,571.5" fill="#0026ff" stroke="#0026ff"/>
<polygon points="292.4,530.6 318.1,530.5 335.1,546.3 322.2,559.3" fill="#0044ff" stroke="#0044ff"/>
<polygon points="318.1,530.5 344.6,530.3 348,533.3 335.1,546.3" fill="#0062ff" stroke="#0062ff"/>
<polygon points="344.6,530.3 351,530.3 348,533.3" fill="#0080ff" stroke="#0080ff"/>
</g>
<g stroke="#000" stroke-width="0.95" fill="none" stroke-linejoin="round">
<polyline points="107.2,356.8 134.9,264.1 165.5,228.8 195,167 225.6,137.3 256.5,124 287.2,116.1 317.6,108.3 347.7,105.9 377.3,98.3 406.6,96 435.5,93.7 464,91.5 492.1,89.3 519.9,87.1 547.3,84.9"/>
<polyline points="129.3,379.6 158.8,295 190.5,258.3 221.4,205.3 252.9,168.9 284.8,154.9 316.3,141 347.6,132.8 378.6,130.2 409,116.7 439.1,114.2 468.9,111.7 498.2,109.2 527.1,106.8 555.6,104.4 583.8,102.1"/>
<polyline points="153.2,404.6 184.7,334 217.8,301.4 249.9,246.4 282.6,214.3 315.4,199.5 347.9,184.9 380.1,176.1 411.9,173 443.3,170 474.2,167 504.6,164.1 534.7,161.2 564.3,158.3 593.5,155.5 622.2,152.7"/>
<polyline points="179.4,431.8 213,376.3 247.3,342.3 281,296.8 314.8,263.3 348.7,247.7 382.3,232.2 415.3,211.2 448.1,201.9 480.4,198.5 512.2,195.2 543.6,192 574.4,188.7 604.9,185.6 634.9,182.4 664.4,179.3"/>
<polyline points="208,461.9 243.3,410 279.1,380.5 314.3,339.1 349.4,304.1 384.5,287.5 419.1,271.2 453.3,249.1 487.2,233.2 520.5,229.4 553.4,219.8 585.7,216.2 617.5,212.7 648.9,209.2 679.7,205.7 710.1,202.4"/>
<polyline points="239.2,494.9 276.3,446.8 313.7,422.1 350.4,378.7 387,348.3 423.3,324.5 459.2,307.2 494.6,283.9 529.6,267.1 564.1,256.7 598.1,246.5 631.4,242.5 664.3,238.6 696.5,234.8 728.3,231 759.6,227.3"/>
<polyline points="273.1,530.7 312.1,486.8 351.2,467.2 389.4,421.7 427.4,389.7 465.2,364.5 502.4,346.2 539.2,321.6 575.4,303.8 611.2,286.3 646.2,281.7 680.6,277.3 714.4,273 747.6,268.7 780.4,264.5 812.5,260.3"/>
<polyline points="310.2,571.5 351,530.3 391.7,509.4 431.7,468.5 471.3,437.4 510.5,408.1 549.1,391.6 587.4,362.6 625,343.7 662,325 698.1,320 733.6,315 768.5,310.1 802.7,305.3 836.4,300.6 869.5,296"/>
<polyline points="107.2,356.8 129.3,379.6 153.2,404.6 179.4,431.8 208,461.9 239.2,494.9 273.1,530.7 310.2,571.5"/>
<polyline points="134.9,264.1 158.8,295 184.7,334 213,376.3 243.3,410 276.3,446.8 312.1,486.8 351,530.3"/>
<polyline points="165.5,228.8 190.5,258.3 217.8,301.4 247.3,342.3 279.1,380.5 313.7,422.1 351.2,467.2 391.7,509.4"/>
<polyline points="195,167 221.4,205.3 249.9,246.4 281,296.8 314.3,339.1 350.4,378.7 389.4,421.7 431.7,468.5"/>
<polyline points="225.6,137.3 252.9,168.9 282.6,214.3 314.8,263.3 349.4,304.1 387,348.3 427.4,389.7 471.3,437.4"/>
<polyline points="256.5,124 284.8,154.9 315.4,199.5 348.7,247.7 384.5,287.5 423.3,324.5 465.2,364.5 510.5,408.1"/>
<polyline points="287.2,116.1 316.3,141 347.9,184.9 382.3,232.2 419.1,271.2 459.2,307.2 502.4,346.2 549.1,391.6"/>
<polyline points="317.6,108.3 347.6,132.8 380.1,176.1 415.3,211.2 453.3,249.1 494.6,283.9 539.2,321.6 587.4,362.6"/>
<polyline points="347.7,105.9 378.6,130.2 411.9,173 448.1,201.9 487.2,233.2 529.6,267.1 575.4,303.8 625,343.7"/>
<polyline points="377.3,98.3 409,116.7 443.3,170 480.4,198.5 520.5,229.4 564.1,256.7 611.2,286.3 662,325"/>
<polyline points="406.6,96 439.1,114.2 474.2,167 512.2,195.2 553.4,219.8 598.1,246.5 646.2,281.7 698.1,320"/>
<polyline points="435.5,93.7 468.9,111.7 504.6,164.1 543.6,192 585.7,216.2 631.4,242.5 680.6,277.3 733.6,315"/>
<polyline points="464,91.5 498.2,109.2 534.7,161.2 574.4,188.7 617.5,212.7 664.3,238.6 714.4,273 768.5,310.1"/>
<polyline points="492.1,89.3 527.1,106.8 564.3,158.3 604.9,185.6 648.9,209.2 696.5,234.8 747.6,268.7 802.7,305.3"/>
<polyline points="519.9,87.1 555.6,104.4 593.5,155.5 634.9,182.4 679.7,205.7 728.3,231 780.4,264.5 836.4,300.6"/>
<polyline points="547.3,84.9 583.8,102.1 622.2,152.7 664.4,179.3 710.1,202.4 759.6,227.3 812.5,260.3 869.5,296"/>
</g>
<g stroke="#000" stroke-width="1" fill="none" shape-rendering="crispEdges">
<path d="M92.2 83.2L91.6 72.8M125.5 80.8L125.3 75.5M158.4 78.5L158 68.3M190.9 76.2L190.7 71M222.8 74L222.5 63.8M254.4 71.7L254.2 66.6M285.5 69.5L285.2 59.6M316.1 67.4L316 62.3M346.4 65.2L346.2 55.4M376.2 63.1L376.1 58.1M405.6 61.1L405.5 51.3M434.6 59L434.6 54M463.3 57L463.2 47.4M491.5 55L491.5 50.1M519.4 53L519.5 43.5M546.9 51.1L547 46.2M574.1 49.2L574.2 39.8M597.5 47.5L597.7 38.9M636 58.1L636.2 49.2M677.3 69.5L677.6 60.3M721.9 81.8L722.2 72.3M770.1 95.1L770.5 85.2M822.3 109.6L822.8 99.3M879.3 125.3L879.9 114.5M941.5 142.4L942.2 131.2M78.3 365.4L69.1 366.6M76.7 339.2L71.2 339.9M75.2 312.8L66 313.9M73.7 286.2L68.1 286.8M72.1 259.4L62.8 260.4M70.6 232.4L64.9 232.9M69 205.1L59.6 206.1M67.4 177.7L61.7 178.2M65.8 150.1L56.4 150.9M64.2 122.2L58.5 122.7M62.6 94.1L53.1 94.8M920.2 466L928.7 463.8M922.1 435.9L926.5 434.8M924.1 405.6L932.6 403.4M926.2 374.9L930.6 373.8M928.2 344L936.7 341.8M930.2 312.9L934.6 311.8M932.3 281.4L940.8 279.2M934.4 249.7L938.8 248.6M936.5 217.6L945 215.4M938.6 185.3L943 184.2M940.8 152.7L949.3 150.5M78.8 374.4L79.3 383.2M100.1 398.8L100.6 407.9M123.2 425.2L123.7 434.7M148.2 453.9L148.7 463.8M175.5 485.2L176 495.5M205.4 519.4L205.8 530.1M238.2 557L238.6 568.1M274.4 598.4L274.7 610.1M311.8 591.3L312.1 603.9M353.2 583.5L353.3 589.3M393.8 575.8L393.9 588.2M433.6 568.3L433.7 573.9M472.8 560.9L472.8 573M511.2 553.6L511.2 559.2M548.9 546.5L548.8 558.4M586 539.4L585.9 544.9M622.4 532.6L622.1 544.3M658.2 525.8L658 531.2M693.3 519.1L693 530.7M727.9 512.6L727.7 517.9M761.9 506.2L761.4 517.6M795.3 499.8L795 505M828.1 493.6L827.5 504.9M860.4 487.5L860.1 492.6M892.2 481.5L891.5 492.6"/>
</g>
<g><path d="M90.9 51.4 89.1 52.2 87.8 54.1 87.2 57.1 87.2 58.9 87.8 61.9 89 63.6 90.7 64 91.9 64 93.7 63.2 95 61.3 95.6 58.3 95.6 56.5 95 53.5 93.8 51.8 92.1 51.4 90.9 51.4M137.4 51.5 138.5 50.8 140.3 48.9 140.2 61.3M150.8 48.2 149.1 48.9 147.9 50.7 147.3 53.7 147.3 55.5 147.8 58.4 149 60 150.7 60.5 151.9 60.4 153.7 59.7 154.8 57.8 155.5 54.9 155.5 53.1 154.9 50.2 153.8 48.5 152 48.1 150.8 48.2M162.5 47.3 160.8 48 159.6 49.9 159 52.9 159 54.6 159.5 57.5 160.7 59.2 162.4 59.6 163.6 59.6 165.4 58.8 166.5 57 167.2 54 167.2 52.3 166.6 49.4 165.5 47.7 163.7 47.2 162.5 47.3M174.2 46.5 172.5 47.2 171.3 49 170.7 52 170.7 53.8 171.2 56.7 172.4 58.3 174.1 58.8 175.3 58.7 177.1 58 178.2 56.1 178.9 53.2 178.9 51.4 178.3 48.5 177.2 46.8 175.4 46.4 174.2 46.5M201 48 201 47.5 201.5 46.3 202.1 45.6 203.3 45 205.5 44.8 206.7 45.3 207.3 45.9 207.8 47 207.8 48.1 207.2 49.3 206.1 51.1 200.3 57.2 208.3 56.7M215.3 44.1 213.5 44.8 212.4 46.6 211.8 49.5 211.8 51.3 212.3 54.1 213.5 55.7 215.2 56.2 216.3 56.1 218 55.4 219.2 53.6 219.8 50.7 219.8 49 219.2 46.1 218.1 44.5 216.4 44.1 215.3 44.1M226.7 43.3 225 44 223.8 45.8 223.2 48.7 223.2 50.4 223.8 53.3 224.9 54.9 226.6 55.3 227.7 55.3 229.5 54.6 230.6 52.8 231.2 49.9 231.2 48.1 230.7 45.3 229.5 43.7 227.8 43.2 226.7 43.3M238.1 42.5 236.4 43.2 235.2 45 234.7 47.9 234.6 49.6 235.2 52.4 236.3 54.1 238 54.5 239.2 54.4 240.9 53.8 242 51.9 242.6 49 242.7 47.3 242.1 44.5 241 42.9 239.3 42.4 238.1 42.5M265.7 40.7 271.9 40.3 268.5 45 270.1 44.9 271.3 45.3 271.8 45.9 272.4 47.5 272.3 48.6 271.8 50.3 270.6 51.5 269 52.2 267.3 52.3 265.6 51.9 265.1 51.4 264.5 50.3M279.1 39.8 277.4 40.4 276.3 42.2 275.7 45 275.7 46.7 276.2 49.5 277.3 51.1 279 51.5 280.1 51.4 281.8 50.8 282.9 49 283.5 46.2 283.5 44.5 283 41.7 281.9 40.1 280.2 39.7 279.1 39.8M290.3 39 288.6 39.6 287.5 41.4 286.9 44.2 286.9 45.9 287.4 48.7 288.5 50.3 290.2 50.7 291.3 50.6 293 50 294.1 48.2 294.7 45.4 294.7 43.7 294.2 40.9 293.1 39.3 291.4 38.9 290.3 39M301.4 38.2 299.8 38.9 298.6 40.6 298 43.5 298 45.1 298.6 47.9 299.7 49.5 301.3 49.9 302.4 49.8 304.1 49.2 305.3 47.4 305.8 44.6 305.9 42.9 305.3 40.1 304.2 38.5 302.6 38.1 301.4 38.2M331.1 36.7 325.6 44.7 333.8 44.1M331.1 36.7 331 48.2M339.9 36.1 338.2 36.7 337.1 38.5 336.5 41.2 336.5 42.9 337.1 45.6 338.1 47.1 339.8 47.6 340.8 47.5 342.5 46.8 343.6 45.1 344.2 42.3 344.2 40.7 343.7 38 342.6 36.4 340.9 36 339.9 36.1M350.8 35.3 349.1 36 348 37.7 347.4 40.5 347.4 42.1 347.9 44.8 349 46.4 350.7 46.8 351.7 46.7 353.4 46.1 354.5 44.3 355.1 41.6 355.1 39.9 354.5 37.2 353.5 35.7 351.8 35.2 350.8 35.3M361.6 34.6 360 35.2 358.9 36.9 358.3 39.7 358.3 41.3 358.8 44 359.9 45.6 361.5 46 362.6 46 364.3 45.3 365.4 43.6 365.9 40.8 366 39.2 365.4 36.5 364.4 34.9 362.7 34.5 361.6 34.6M391.9 32.7 386.6 33.1 386 37.9 386.5 37.4 388.1 36.7 389.7 36.6 391.3 37 392.4 38 392.9 39.6 392.9 40.6 392.3 42.3 391.2 43.4 389.6 44.1 388.1 44.2 386.5 43.7 385.9 43.2 385.4 42.2M399.3 32.2 397.7 32.9 396.6 34.5 396.1 37.2 396.1 38.8 396.6 41.4 397.6 43 399.2 43.4 400.3 43.3 401.9 42.7 402.9 41 403.5 38.3 403.5 36.7 403 34.1 402 32.6 400.4 32.1 399.3 32.2M409.9 31.5 408.3 32.1 407.3 33.8 406.7 36.5 406.7 38.1 407.2 40.7 408.2 42.2 409.8 42.7 410.9 42.6 412.5 41.9 413.6 40.3 414.1 37.6 414.1 36 413.6 33.4 412.6 31.8 411 31.4 409.9 31.5M420.6 30.7 419 31.4 417.9 33.1 417.3 35.8 417.3 37.4 417.8 40 418.9 41.5 420.5 41.9 421.5 41.9 423.1 41.2 424.2 39.5 424.7 36.8 424.8 35.2 424.3 32.6 423.2 31.1 421.6 30.7 420.6 30.7M450.3 30.7 449.8 29.7 448.3 29.3 447.3 29.3 445.7 30 444.6 31.6 444.1 34.2 444.1 36.8 444.6 38.8 445.6 39.8 447.2 40.2 447.7 40.2 449.2 39.6 450.3 38.5 450.8 36.9 450.8 36.3 450.3 34.8 449.3 33.9 447.7 33.4 447.2 33.5 445.7 34.1 444.6 35.2 444.1 36.8M457.1 28.7 455.5 29.3 454.5 30.9 453.9 33.5 453.9 35.1 454.4 37.7 455.4 39.1 457 39.6 458 39.5 459.6 38.9 460.6 37.2 461.2 34.6 461.2 33 460.7 30.5 459.7 29 458.1 28.6 457.1 28.7M467.4 28 465.9 28.6 464.8 30.2 464.3 32.8 464.3 34.4 464.8 36.9 465.8 38.4 467.4 38.8 468.4 38.8 469.9 38.2 471 36.5 471.5 33.9 471.6 32.3 471.1 29.8 470 28.3 468.5 27.9 467.4 28M477.8 27.2 476.2 27.9 475.2 29.5 474.7 32.1 474.6 33.7 475.1 36.2 476.2 37.7 477.7 38.1 478.7 38.1 480.3 37.4 481.4 35.8 481.9 33.2 481.9 31.6 481.4 29.1 480.4 27.6 478.8 27.2 477.8 27.2M507.8 25.4 502.7 36.3M500.8 25.8 507.8 25.4M513.9 25 512.4 25.6 511.4 27.2 510.8 29.7 510.8 31.2 511.3 33.7 512.3 35.2 513.8 35.6 514.8 35.5 516.3 34.9 517.4 33.3 517.9 30.8 517.9 29.2 517.4 26.8 516.4 25.3 514.9 24.9 513.9 25M524 24.3 522.5 24.9 521.4 26.5 520.9 29 520.9 30.6 521.4 33 522.4 34.5 523.9 34.9 524.9 34.8 526.4 34.2 527.4 32.6 528 30.1 528 28.6 527.5 26.1 526.5 24.6 525 24.2 524 24.3M534.1 23.6 532.6 24.2 531.5 25.8 531 28.4 531 29.9 531.5 32.4 532.5 33.8 534 34.2 535 34.2 536.5 33.5 537.5 32 538.1 29.4 538.1 27.9 537.6 25.4 536.6 23.9 535.1 23.5 534.1 23.6M557.6 22.8 556.2 23.4 555.7 24.4 555.7 25.4 556.1 26.3 557.1 26.7 559.1 27.1 560.5 27.5 561.5 28.4 562 29.4 562 30.8 561.5 31.9 561 32.4 559.5 33 557.5 33.1 556.1 32.7 555.6 32.3 555.1 31.3 555.1 29.8 555.6 28.8 556.6 27.8 558.1 27.2 560.1 26.6 561 26 561.5 25 561.6 24 561.1 23 559.6 22.6 557.6 22.8M567.9 22.1 566.5 22.7 565.5 24.2 565 26.7 564.9 28.2 565.4 30.6 566.4 32 567.9 32.4 568.8 32.4 570.3 31.8 571.3 30.2 571.8 27.7 571.8 26.3 571.4 23.8 570.4 22.4 568.9 22 567.9 22.1M577.8 21.4 576.3 22 575.3 23.6 574.8 26.1 574.8 27.5 575.2 30 576.2 31.4 577.7 31.8 578.7 31.7 580.1 31.1 581.1 29.6 581.6 27.1 581.7 25.6 581.2 23.2 580.2 21.8 578.7 21.4 577.8 21.4M587.6 20.8 586.1 21.4 585.1 22.9 584.6 25.4 584.6 26.9 585.1 29.3 586 30.7 587.5 31.1 588.5 31.1 590 30.5 590.9 28.9 591.5 26.4 591.5 25 591 22.5 590 21.1 588.6 20.7 587.6 20.8M327.6 3.7 327.6 16.3M327.6 3.7 333.3 3.4 335.2 3.9 335.9 4.4 336.5 5.6 336.5 6.8 335.9 8 335.2 8.7 333.3 9.4 327.6 9.7M332.1 9.5 336.5 15.8M340.9 2.9 340.9 15.5M340.9 2.9 346.6 2.6 348.5 3 349.2 3.6 349.8 4.8 349.8 6.6 349.2 7.8 348.5 8.4 346.6 9.2 340.9 9.5M354.2 2.1 354.2 14.7M354.2 2.1 359.3 14.4M364.4 1.5 359.3 14.4M364.4 1.5 364.4 14.1M312.6 611.8 310.4 612.9 308.7 615.4 307.5 619.2 307.2 621.4 307.4 624.9 308.5 626.9 310.4 627.3 311.8 627 314 625.9 315.7 623.4 316.9 619.6 317.2 617.4 317 613.9 315.9 611.9 314 611.5 312.6 611.8M371 603.9 372.4 602.9 374.7 600.4 372.6 615.6M386.8 598.2 384.7 599.2 383 601.7 381.8 605.4 381.5 607.6 381.7 611.1 382.7 613 384.6 613.4 386 613.1 388.1 612 389.8 609.6 390.9 605.8 391.2 603.7 391.1 600.2 390 598.3 388.1 597.9 386.8 598.2M400.2 595.7 398.1 596.8 396.4 599.2 395.3 602.9 395 605.1 395.1 608.6 396.2 610.5 398.1 610.9 399.4 610.6 401.5 609.5 403.2 607.1 404.3 603.4 404.6 601.2 404.5 597.7 403.4 595.8 401.5 595.4 400.2 595.7M413.6 593.2 411.5 594.3 409.8 596.7 408.7 600.4 408.4 602.6 408.5 606.1 409.6 608 411.5 608.4 412.8 608.1 414.9 607 416.6 604.6 417.8 600.9 418.1 598.7 417.9 595.2 416.9 593.3 415 592.9 413.6 593.2M449.6 589.8 449.7 589.1 450.6 587.6 451.4 586.7 452.8 585.8 455.4 585.3 456.6 585.8 457.1 586.4 457.6 587.7 457.4 589.1 456.5 590.6 454.9 593 447.4 601.4 456.5 599.7M466.5 583.3 464.4 584.3 462.8 586.7 461.7 590.4 461.4 592.5 461.5 596 462.5 597.9 464.4 598.2 465.7 598 467.7 596.9 469.3 594.5 470.5 590.8 470.8 588.7 470.6 585.3 469.6 583.4 467.8 583 466.5 583.3M479.5 580.8 477.5 581.9 475.9 584.3 474.7 588 474.4 590.1 474.6 593.5 475.6 595.4 477.4 595.8 478.7 595.5 480.8 594.5 482.4 592.1 483.5 588.4 483.8 586.3 483.7 582.8 482.7 580.9 480.8 580.6 479.5 580.8M492.6 578.4 490.5 579.5 488.9 581.9 487.8 585.5 487.5 587.7 487.6 591.1 488.6 593 490.5 593.4 491.8 593.1 493.8 592.1 495.5 589.7 496.6 586 496.9 583.9 496.8 580.4 495.7 578.5 493.9 578.2 492.6 578.4M527.1 571.2 534.1 569.9 529.5 576.2 531.4 575.8 532.6 576.3 533.1 576.9 533.4 578.9 533.2 580.3 532.3 582.5 530.9 584.1 528.8 585.2 526.9 585.5 525.1 585.2 524.6 584.6 524.2 583.3M542.3 568.3 540.3 569.4 538.8 571.7 537.6 575.4 537.4 577.5 537.5 580.8 538.5 582.7 540.3 583 541.5 582.8 543.6 581.8 545.1 579.4 546.2 575.8 546.5 573.7 546.4 570.3 545.4 568.5 543.6 568.1 542.3 568.3M555.1 566 553 567 551.5 569.4 550.4 573 550.1 575.1 550.2 578.5 551.2 580.3 553 580.7 554.3 580.5 556.3 579.4 557.8 577.1 559 573.4 559.2 571.3 559.1 568 558.1 566.1 556.3 565.8 555.1 566M567.8 563.6 565.7 564.7 564.2 567 563.1 570.6 562.8 572.7 562.9 576.1 563.9 578 565.7 578.3 567 578.1 569 577 570.5 574.7 571.7 571.1 571.9 569 571.8 565.6 570.8 563.7 569 563.4 567.8 563.6M605.6 555.5 598.1 566.2 607.4 564.5M605.6 555.5 603.6 569.9M615.5 553.6 613.6 554.7 612 557 610.9 560.5 610.7 562.6 610.8 565.9 611.7 567.7 613.5 568.1 614.7 567.9 616.7 566.8 618.2 564.5 619.3 561 619.6 558.9 619.5 555.6 618.5 553.7 616.8 553.4 615.5 553.6M627.9 551.3 625.9 552.4 624.4 554.7 623.3 558.2 623 560.3 623.1 563.6 624.1 565.5 625.8 565.8 627.1 565.6 629 564.5 630.6 562.2 631.7 558.7 631.9 556.6 631.8 553.3 630.9 551.5 629.1 551.1 627.9 551.3M640.2 549.1 638.3 550.1 636.7 552.4 635.6 555.9 635.4 558 635.5 561.3 636.4 563.2 638.2 563.5 639.4 563.3 641.4 562.2 642.9 560 644 556.4 644.3 554.3 644.2 551 643.2 549.2 641.5 548.8 640.2 549.1M678.3 541.8 672.3 542.9 670.9 549.1 671.5 548.3 673.4 547.3 675.2 547 676.9 547.3 678 548.4 678.3 550.3 678.1 551.7 677.2 553.8 675.8 555.4 673.9 556.4 672.1 556.8 670.4 556.4 669.9 555.9 669.5 554.6M686.7 540.2 684.8 541.2 683.3 543.5 682.2 547 682 549 682.1 552.3 683 554.1 684.7 554.4 685.9 554.2 687.8 553.2 689.3 550.9 690.4 547.4 690.6 545.4 690.5 542.1 689.6 540.3 687.9 540 686.7 540.2M698.7 538 696.8 539 695.3 541.3 694.2 544.8 694 546.8 694.1 550.1 695 551.9 696.7 552.2 697.9 552 699.8 551 701.3 548.7 702.4 545.2 702.6 543.2 702.5 539.9 701.6 538.1 699.9 537.8 698.7 538M710.7 535.8 708.8 536.8 707.3 539 706.2 542.5 706 544.6 706.1 547.8 707 549.6 708.7 550 709.9 549.8 711.8 548.7 713.3 546.5 714.3 543 714.6 541 714.5 537.7 713.6 535.9 711.9 535.5 710.7 535.8M746.7 530.2 746.3 528.9 744.7 528.6 743.5 528.8 741.7 529.8 740.2 532 739.2 535.4 738.7 538.8 738.9 541.3 739.9 542.4 741.6 542.8 742.1 542.7 744 541.7 745.3 540.1 746.2 538 746.3 537.4 746 535.5 745 534.4 743.4 534 742.8 534.1 740.9 535.1 739.6 536.7 738.7 538.8M754.6 526.8 752.7 527.7 751.3 530 750.3 533.4 750 535.4 750.1 538.6 751 540.4 752.6 540.7 753.8 540.5 755.6 539.5 757.1 537.3 758.1 533.9 758.4 531.9 758.3 528.7 757.4 526.9 755.8 526.5 754.6 526.8M766.2 524.6 764.4 525.6 762.9 527.8 761.9 531.2 761.6 533.2 761.7 536.4 762.6 538.2 764.3 538.6 765.4 538.3 767.3 537.4 768.7 535.1 769.8 531.7 770 529.7 769.9 526.5 769 524.7 767.4 524.4 766.2 524.6M777.9 522.4 776 523.4 774.6 525.6 773.5 529.1 773.3 531.1 773.4 534.3 774.3 536.1 775.9 536.4 777.1 536.2 778.9 535.2 780.4 533 781.4 529.6 781.7 527.6 781.6 524.3 780.7 522.6 779 522.2 777.9 522.4M814.9 514.8 807.3 529.6M807 516.3 814.9 514.8M821.7 513.6 819.9 514.6 818.5 516.7 817.4 520.1 817.2 522.1 817.3 525.2 818.1 527 819.7 527.3 820.9 527.1 822.6 526.1 824 524 825.1 520.6 825.3 518.6 825.2 515.5 824.4 513.7 822.8 513.4 821.7 513.6M832.9 511.5 831.2 512.5 829.8 514.6 828.7 518 828.5 520 828.6 523.1 829.4 524.9 831 525.2 832.1 525 833.9 524 835.3 521.9 836.4 518.5 836.6 516.5 836.5 513.4 835.7 511.6 834.1 511.3 832.9 511.5M844.2 509.4 842.4 510.4 841 512.5 840 515.9 839.7 517.9 839.8 521 840.7 522.8 842.3 523.1 843.4 522.9 845.2 521.9 846.6 519.8 847.6 516.4 847.9 514.5 847.8 511.3 847 509.5 845.4 509.2 844.2 509.4M873.8 503.5 872 504.5 871.3 505.8 871.1 507.1 871.5 508.3 872.5 508.7 874.6 509 876.1 509.3 877 510.4 877.4 511.6 877.1 513.5 876.4 514.9 875.8 515.6 874 516.6 871.9 517 870.3 516.6 869.9 516.1 869.5 514.9 869.8 513 870.5 511.6 871.8 510.1 873.5 509.2 875.8 508.1 876.9 507.3 877.7 505.9 877.9 504.6 877.5 503.4 875.9 503.1 873.8 503.5M885.2 501.4 883.5 502.3 882.1 504.5 881.1 507.8 880.9 509.7 881 512.8 881.8 514.5 883.3 514.8 884.4 514.6 886.2 513.7 887.5 511.6 888.5 508.3 888.8 506.3 888.7 503.2 887.9 501.5 886.3 501.2 885.2 501.4M896.2 499.4 894.4 500.3 893.1 502.4 892.1 505.7 891.8 507.7 891.9 510.8 892.7 512.5 894.3 512.8 895.4 512.6 897.1 511.7 898.5 509.5 899.5 506.2 899.7 504.3 899.6 501.2 898.8 499.5 897.3 499.2 896.2 499.4M907.1 497.3 905.4 498.3 904 500.4 903 503.7 902.7 505.6 902.8 508.7 903.7 510.5 905.2 510.8 906.3 510.6 908 509.6 909.4 507.5 910.4 504.2 910.7 502.3 910.6 499.2 909.7 497.5 908.2 497.1 907.1 497.3M600.3 594 598.6 610.1M600.3 594 607.1 592.9 609.3 593.3 610 593.9 610.6 595.3 610.4 596.8 609.5 598.5 608.7 599.4 606.3 600.5 599.5 601.7M604.8 600.8 609.2 608.4M616.2 591.4 614.5 607.5M616.2 591.4 623 590.2 625.2 590.6 625.9 591.2 626.5 592.7 626.2 595 625.3 596.6 624.5 597.5 622.1 598.7 615.3 599.8M632.1 588.7 630.4 604.8M632.1 588.7 636.4 603.8M644.2 586.7 636.4 603.8M644.2 586.7 642.5 602.8M34.6 89.9 28.3 89.9 27.6 95.4 28.3 94.8 30.2 94.2 32.1 94.2 34 94.8 35.3 96 35.9 97.8 35.9 99 35.3 100.9 34 102.1 32.1 102.7 30.2 102.7 28.3 102.1 27.6 101.5 27 100.3M43.5 89.9 41.6 90.5 40.3 92.3 39.7 95.4 39.7 97.2 40.3 100.3 41.6 102.1 43.5 102.7 44.8 102.7 46.7 102.1 48 100.3 48.6 97.2 48.6 95.4 48 92.3 46.7 90.5 44.8 89.9 43.5 89.9M36.4 145 30 153.5 39.5 153.5M36.4 145 36.4 157.8M46.5 145 44.6 145.6 43.3 147.4 42.7 150.5 42.7 152.3 43.3 155.4 44.6 157.2 46.5 157.8 47.8 157.8 49.7 157.2 51 155.4 51.6 152.3 51.6 150.5 51 147.4 49.7 145.6 47.8 145 46.5 145M34.1 200.9 41.1 200.9 37.2 205.8 39.2 205.8 40.4 206.4 41.1 207 41.7 208.8 41.7 210 41.1 211.9 39.8 213.1 37.9 213.7 36 213.7 34.1 213.1 33.4 212.5 32.8 211.3M49.3 200.9 47.4 201.5 46.1 203.3 45.5 206.4 45.5 208.2 46.1 211.3 47.4 213.1 49.3 213.7 50.6 213.7 52.5 213.1 53.8 211.3 54.4 208.2 54.4 206.4 53.8 203.3 52.5 201.5 50.6 200.9 49.3 200.9M37 258.2 37 257.6 37.7 256.4 38.3 255.8 39.6 255.2 42.1 255.2 43.4 255.8 44 256.4 44.7 257.6 44.7 258.9 44 260.1 42.8 261.9 36.4 268 45.3 268M52.9 255.2 51 255.8 49.7 257.6 49.1 260.7 49.1 262.5 49.7 265.6 51 267.4 52.9 268 54.2 268 56.1 267.4 57.4 265.6 58 262.5 58 260.7 57.4 257.6 56.1 255.8 54.2 255.2 52.9 255.2M40.9 311.3 42.1 310.7 44 308.9 44 321.7M55.5 308.9 53.6 309.5 52.3 311.3 51.7 314.4 51.7 316.2 52.3 319.3 53.6 321.1 55.5 321.7 56.7 321.7 58.6 321.1 59.9 319.3 60.5 316.2 60.5 314.4 59.9 311.3 58.6 309.5 56.7 308.9 55.5 308.9M59 360.8 57.1 361.4 55.8 363.2 55.2 366.3 55.2 368.1 55.8 371.2 57.1 373 59 373.6 60.2 373.6 62.1 373 63.4 371.2 64 368.1 64 366.3 63.4 363.2 62.1 361.4 60.2 360.8 59 360.8M962.8 144 956.7 145.2 955.1 151.4 955.8 150.6 957.7 149.5 959.6 149.1 961.3 149.4 962.2 150.5 962.5 152.4 962.3 153.7 961.3 155.8 959.8 157.4 957.9 158.5 956.1 158.8 954.4 158.6 953.9 158 953.5 156.8M971.3 142.1 969.4 143.2 967.8 145.5 966.6 148.9 966.2 150.9 966.3 154.1 967.1 155.9 968.8 156.1 970 155.9 972 154.8 973.5 152.6 974.7 149.1 975.1 147.1 975.1 143.9 974.2 142.2 972.5 141.9 971.3 142.1M957.4 208.1 949.7 218.7 958.8 216.8M957.4 208.1 954.9 222.1M967.1 206 965.2 207.1 963.6 209.4 962.4 212.8 962 214.8 962.1 218 962.9 219.8 964.6 220 965.8 219.8 967.8 218.7 969.3 216.5 970.5 213 970.9 211 970.9 207.8 970 206.1 968.3 205.8 967.1 206M948 273.4 954.7 272 950.1 278.1 951.9 277.7 953 278.1 953.5 278.7 953.8 280.6 953.6 281.9 952.6 284 951.1 285.6 949.2 286.7 947.4 287 945.7 286.8 945.2 286.2 944.8 285M962.6 270.3 960.7 271.4 959.1 273.7 957.9 277.1 957.5 279.1 957.6 282.3 958.4 284.1 960.1 284.3 961.3 284.1 963.3 283 964.8 280.8 966 277.3 966.4 275.3 966.4 272.1 965.5 270.4 963.8 270.1 962.6 270.3M942.2 338.7 942.4 338 943.2 336.6 943.9 335.8 945.3 334.9 947.7 334.3 948.8 334.7 949.3 335.3 949.6 336.5 949.4 337.8 948.6 339.3 947 341.5 939.8 349.5 948.2 347.7M958 332.1 956.1 333.2 954.5 335.5 953.3 338.9 952.9 340.9 953 344.1 953.8 345.9 955.5 346.1 956.7 345.9 958.7 344.8 960.2 342.6 961.4 339.1 961.8 337.1 961.8 333.9 960.9 332.2 959.2 331.9 958 332.1M940 398.9 941.3 397.9 943.5 395.6 941 409.5M954.4 393.2 952.4 394.3 950.9 396.5 949.7 400 949.3 402 949.4 405.2 950.2 406.9 951.9 407.2 953.1 407 955.1 405.9 956.6 403.7 957.8 400.2 958.2 398.2 958.2 395 957.3 393.3 955.6 393 954.4 393.2M939.2 455.1 937.3 456.2 935.7 458.4 934.5 461.9 934.2 463.9 934.2 467.1 935.1 468.8 936.8 469.1 938 468.9 939.9 467.8 941.5 465.6 942.7 462.1 943 460.1 943 456.9 942.1 455.2 940.4 454.9 939.2 455.1M16.3 166 -0.1 161.7M16.3 166 0.4 171.9M5.4 163.4 5.7 169.7M16.7 174.3 0.6 175.1M16.7 174.3 17 178.7 16.3 180.7 14.8 182 13.3 182.8 11 183.5 7.2 183.7 4.8 183.2 3.3 182.6 1.7 181.4 0.8 179.6 0.6 175.1M17.3 185.7 1.4 191.7M17.8 195.9 1.4 191.7M18.2 202.3 1.7 198M18.2 202.3 2.2 208.2M7.2 199.7 7.5 206M18.6 210.6 2.4 211.4M18.6 210.6 2.9 220.3M19 219.5 2.9 220.3M15.9 233.7 17.4 233 18.9 231.7 19.6 230.3 19.5 227.8 18.6 226.6 17 225.4 15.4 224.8 13.1 224.3 9.2 224.5 7 225.2 5.5 225.9 4 227.3 3.3 228.6 3.4 231.2 4.2 232.4 5.8 233.6 7.4 234.1M20 238 3.8 238.8M20 238 20.4 246.3M12.3 238.4 12.5 243.5M3.8 238.8 4.2 247.1M24.4 264.6 22.8 263.4 20.4 262.2 17.3 261.1 13.4 260.7 10.3 260.8 6.5 261.7 3.5 263.1 1.2 264.5 -0.2 265.8M21.6 269.2 5.4 270M21.6 269.2 21.8 273.7 21.1 275.6 19.6 277 18.1 277.7 15.8 278.4 12 278.6 9.6 278.1 8.1 277.5 6.5 276.3 5.6 274.5 5.4 270M22.2 282.6 6.1 283.4M22.2 282.6 22.6 290.9M14.5 283 14.8 288.1M6.1 283.4 6.5 291.7M19.4 303.8 21 303.1 22.4 301.7 23.1 300.4 23 297.9 22.2 296.6 20.6 295.4 19 294.9 16.6 294.4 12.8 294.5 10.5 295.3 9 296 7.5 297.4 6.8 298.7 7 301.2 7.8 302.5 9.4 303.7 11 304.2 13.3 304.1M13.1 300.9 13.3 304.1M26.6 307.3 25.1 308.6 22.8 310 19.8 311.4 16 312.3 12.9 312.4 9 312 5.9 310.9 3.5 309.7 1.9 308.5M973.1 382.3 985.8 389.1M973.1 382.3 986.8 377.5M981.6 386.6 982.2 379.3M973.9 372.9 987 373.9M973.9 372.9 974.3 367.8 975.1 365.7 976.4 364.4 977.8 363.7 979.7 363.2 982.8 363.4 984.6 364.3 985.8 365.1 987 366.6 987.4 368.9 987 373.9M974.9 359.9 988.5 355.1M975.8 348.3 988.5 355.1M976.4 341.1 989.1 347.9M976.4 341.1 990 336.4M984.9 345.4 985.4 338.2M977.1 331.7 990.3 332.8M977.1 331.7 991.1 322.7M977.9 321.6 991.1 322.7M982.3 306 981 306.6 979.6 307.9 978.9 309.3 978.7 312.2 979.2 313.7 980.3 315.3 981.5 316.1 983.3 317 986.5 317.2 988.4 316.6 989.7 316 991.1 314.7 991.8 313.3 992 310.4 991.5 308.9 990.4 307.3 989.2 306.5M979.6 300.7 992.7 301.7M979.6 300.7 980.3 291.3M985.8 301.2 986.3 295.4M992.7 301.7 993.5 292.3M979.4 270.2 980.6 271.7 982.3 273.3 984.7 274.9 987.8 275.9 990.3 276.1 993.5 275.6 996.1 274.4 998.1 273.1 999.5 271.7M982.3 265.3 995.5 266.3M982.3 265.3 982.7 260.2 983.5 258.1 984.9 256.8 986.2 256.2 988.2 255.6 991.3 255.8 993.1 256.7 994.3 257.5 995.4 259.1 995.9 261.3 995.5 266.3M983.5 250.1 996.7 251.2M983.5 250.1 984.3 240.7M989.8 250.6 990.3 244.9M996.7 251.2 997.4 241.8M988.5 226.6 987.2 227.2 985.9 228.5 985.1 229.9 984.9 232.8 985.4 234.3 986.6 235.8 987.8 236.7 989.6 237.5 992.7 237.8 994.6 237.2 996 236.6 997.3 235.2 998.1 233.8 998.3 231 997.8 229.5 996.6 227.9 995.4 227.1 993.6 226.9M993.3 230.6 993.6 226.9M983.2 221.8 984.6 220.4 986.6 219.1 989.2 217.9 992.4 217.4 994.9 217.6 998 218.6 1000.4 220.2 1002.2 221.8 1003.3 223.4M666.1 1.1 665.8 13.1M666.1 1.1 668.4 13.7M671.4 2.3 668.4 13.7M671.4 2.3 671.1 14.3M675.7 3.2 672.7 14.7M675.7 3.2 678.1 15.9M673.8 10.9 677.2 11.6M680.1 4.2 679.8 16.3M680.1 4.2 684.5 17.3M684.9 5.2 684.5 17.3M687.6 5.8 687.2 18M690.3 6.4 690 18.6M690.3 6.4 694.8 7.4M690.2 12.2 692.9 12.8M698.3 8.2 697.6 8.6 696.9 9.6 696.5 10.7 696.1 12.4 696 15.3 696.3 17.1 696.6 18.3 697.2 19.7 697.9 20.4 699.3 20.7 700 20.3 700.8 19.3 701.1 18.2 701.6 16.5 701.6 13.6 701.4 11.8 701 10.5 700.4 9.2 699.7 8.5 698.3 8.2M704.3 9.5 703.9 21.8M703.9 21.8 708.1 22.7M710.3 10.8 709.9 23.1M710.3 10.8 712.8 11.3 713.8 12.1 714.5 13.5 714.8 14.7 715.1 16.6 715 19.6 714.6 21.3 714.2 22.4 713.5 23.4 712.4 23.7 709.9 23.1M723.6 13.7 723.2 26.2M723.6 13.7 726.9 14.4 728 15.2 728.3 15.9 728.6 17.2 728.6 19 728.2 20.1 727.8 20.6 726.6 21 723.4 20.2M731.3 15.4 730.8 27.9M731.3 15.4 734.6 16.1 735.7 16.9 736.1 17.6 736.4 18.9 736.3 20.1 735.9 21.2 735.5 21.7 734.4 22.1 731.1 21.4M733.7 21.9 736 29.1M739.1 17.1 738.6 29.7M739.1 17.1 744 18.1M738.9 23.1 741.8 23.8M738.6 29.7 743.5 30.8M751.1 21.5 750.4 20.1 749.2 19.3 747.7 18.9 746.6 19.3 745.8 20.4 745.7 21.6 746.1 22.9 746.4 23.6 747.1 24.3 749.4 26.1 750.1 26.8 750.5 27.5 750.8 28.8 750.7 30.7 749.9 31.7 748.8 32 747.2 31.7 746.1 30.8 745.4 29.5M758.7 23.2 758 21.8 756.9 20.9 755.4 20.6 754.2 21 753.4 22 753.3 23.2 753.7 24.5 754 25.2 754.8 26 757 27.8 757.8 28.5 758.1 29.2 758.5 30.6 758.4 32.4 757.6 33.4 756.4 33.8 754.9 33.4 753.7 32.6 753 31.2M761.5 22 761.2 31.2 761.5 33.1 762.2 34.5 763.3 35.4 764.1 35.6 765.3 35.2 766.1 34.2 766.6 32.4 767 23.1M770.1 23.8 769.6 36.8M770.1 23.8 773.7 24.6 774.8 25.5 775.2 26.2 775.5 27.5 775.5 28.8 775 29.9 774.6 30.4 773.4 30.8 769.9 30M772.6 30.6 775.1 38.1M778.4 25.6 777.9 38.7M778.4 25.6 783.6 26.8M778.2 31.9 781.4 32.6M777.9 38.7 783.1 39.9M795.5 26.8 794.6 27.9 793.7 29.6 792.8 32 792.3 35 792.1 37.5 792.4 40.8 793.1 43.5 793.8 45.5 794.6 47M798.3 30 797.7 43.2M801.6 30.7 801 44M801.6 30.7 806.8 45.3M807.4 32 806.8 45.3M810.4 40.3 818 42M821.7 35.1 821.1 48.6M827.7 36.4 827.1 50M821.4 41.5 827.4 42.9M837.1 41.7 836.7 40.3 835.9 38.8 835.1 38 833.4 37.6 832.5 38.1 831.5 39.2 831 40.4 830.5 42.2 830.3 45.5 830.7 47.5 831 48.9 831.8 50.4 832.7 51.2 834.4 51.6 835.3 51.2 836.3 50.1 836.8 48.9 836.9 46.9M834.7 46.4 836.9 46.9M840 36.4 840.9 37.9 841.6 40.1 842.4 42.9 842.7 46.3 842.5 48.9 841.9 52 840.9 54.4 839.9 56.2 839 57.3M118.4 468.5 119.3 485.1M118.4 468.5 120.8 486.9M121.4 472.1 120.8 486.9M121.4 472.1 122.2 488.7M123.8 475 123.2 489.9M123.8 475 126.1 493.6M123.4 485 125.3 487.3M126.2 478 127 494.8M126.2 478 129.7 498.1M128.8 481.2 129.7 498.1M130.3 483.1 131.2 499.9M131.8 484.9 132.7 501.8M131.8 484.9 134.3 488M132.2 493 133.8 494.9M136.2 490.4 135.9 490.7 135.6 491.9 135.5 493.2 135.4 495.4 135.6 499.5 135.9 502.1 136.2 504 136.7 506.1 137.1 507.4 137.9 508.3 138.2 508 138.5 506.9 138.6 505.5 138.7 503.3 138.5 499.3 138.2 496.6 137.9 494.7 137.4 492.6 137 491.3 136.2 490.4M139.5 494.4 140.4 511.5M140.4 511.5 142.7 514.5M142.9 498.5 143.7 515.7M142.9 498.5 144.2 500.2 144.9 501.8 145.4 503.9 145.6 505.8 146 508.5 146.2 512.6 146.1 514.8 146 516.2 145.6 517.4 145.1 517.4 143.7 515.7M150.3 507.6 151.1 525M150.3 507.6 152.1 509.8 152.7 511.4 153 512.5 153.3 514.4 153.4 516.9 153.2 518.3 153.1 518.9 152.5 519 150.7 516.7M154.5 512.9 155.4 530.3M154.5 512.9 156.4 515.1 157 516.7 157.3 517.8 157.6 519.8 157.6 521.4 157.5 522.8 157.3 523.4 156.8 523.5 154.9 521.2M156.4 523 158.2 533.9M158.9 518.2 159.7 535.8M158.9 518.2 161.6 521.5M159.3 526.6 160.9 528.6M159.7 535.8 162.4 539.2M165.7 529 165.2 526.8 164.5 525.1 163.7 524.1 163.1 524.2 162.7 525.3 162.8 527 163.1 529 163.4 530.1 163.8 531.4 165.2 534.7 165.6 536.1 165.9 537.2 166.2 539.1 166.3 541.7 165.9 542.8 165.3 542.9 164.5 541.8 163.8 540.2 163.3 538M170 534.3 169.5 532 168.8 530.4 167.9 529.3 167.3 529.4 167 530.6 167.1 532.3 167.3 534.2 167.6 535.3 168.1 536.7 169.4 540 169.9 541.4 170.1 542.5 170.4 544.5 170.6 547 170.2 548.2 169.6 548.2 168.7 547.1 168.1 545.5 167.6 543.3M171.4 533.6 171.9 546.4 172.3 549.2 172.8 551.4 173.5 553.1 173.9 553.6 174.5 553.6 174.9 552.4 175 550.2 174.4 537.3M176.2 539.5 177 557.5M176.2 539.5 178.1 541.9 178.8 543.6 179.1 544.7 179.4 546.7 179.5 548.4 179.3 549.9 179.2 550.5 178.5 550.5 176.5 548M178.1 550 180 561.3M180.8 545.2 181.6 563.3M180.8 545.2 183.7 548.7M181.2 553.8 183 556M181.6 563.3 184.5 566.9M190.2 553.3 189.8 554.5 189.4 556.6 189.1 559.5 189.1 563.6 189.2 567.1 189.6 571.7 190.2 575.8 190.8 579 191.3 581.3M191.9 558.8 192.7 577.2M193.8 561.1 194.5 579.5M193.8 561.1 197.8 583.6M197 565.1 197.8 583.6M199.3 578 203.6 583.3M205.1 575 205.8 593.7M208.5 579.2 209.2 598M205.4 583.9 208.8 588.1M214 590.3 213.7 588.2 213.1 585.8 212.6 584.3 211.6 583.1 211.2 583.4 210.8 584.6 210.6 586.1 210.4 588.5 210.6 592.9 211 595.9 211.3 598 211.8 600.4 212.4 601.9 213.3 603.2 213.8 602.9 214.2 601.7 214.4 600.2 214.3 597.5M213.1 596 214.3 597.5M215.2 584 215.7 586.4 216.3 589.7 217 594 217.4 598.8 217.5 602.4 217.5 606.6 217.1 609.6 216.7 611.7 216.3 612.9M595.7 31.1 595.4 30.1 594.5 28.4 601.2 30.1M595.7 16.3 595 16.7 594.7 18.1 594.7 19.1 595 20.6 595.9 21.8 597.5 22.7 599.1 23.1 600.4 23 601 22.1 601.4 20.7 601.4 20.2 601.1 18.7 600.5 17.5 599.5 16.8 599.2 16.7 598.2 17 597.6 17.8 597.2 19.2 597.2 19.7 597.5 21.2 598.1 22.4 599.1 23.1M79.8 407.7 79.6 406.3 79.1 404 82.1 407.7M78.6 389.7 78.4 390 78.3 391.6 78.4 392.8 78.7 394.7 79.2 396.4 79.9 397.9 80.7 398.8 81.2 398.9 81.4 398 81.5 396.4 81.5 395.8 81.2 393.9 80.8 392.3 80.4 391.2 80.2 391 79.8 391.1 79.6 392 79.5 393.6 79.6 394.2 79.8 396.1 80.2 397.6 80.7 398.8M634.1 41.2 633.8 40.1 632.8 38.3 640 40.1M633 29.7 633.3 31.3 634 31.9 634.7 32.1 635.4 31.8 635.7 30.8 636.1 28.9 636.5 27.5 637.2 26.6 637.9 26.3 638.9 26.5 639.6 27.2 639.9 27.8 640.2 29.4 640.2 31.5 639.8 32.9 639.5 33.3 638.8 33.7 637.7 33.4 637.1 32.7 636.4 31.5 636.1 29.9 635.8 27.8 635.5 26.7 634.8 26 634.1 25.8 633.4 26.2 633 27.6 633 29.7M101 433.2 100.8 431.8 100.2 429.4 103.6 433.4M99.7 419 99.9 421 100.3 422 100.6 422.4 100.9 422.2 101 421.1 101 418.9 101 417.2 101.3 416.3 101.6 416.1 102 416.6 102.4 417.6 102.6 418.4 102.9 420.5 103 422.9 102.9 424.6 102.8 425 102.5 425.3 102 424.7 101.7 423.7 101.3 422.1 101 420.1 100.8 417.4 100.5 416 100.2 415 99.9 414.7 99.6 414.9 99.5 416.6 99.7 419M675.7 52.3 675.4 52.2 674.7 51.5 674.3 50.9 674 49.7 674 47.6 674.4 46.7 674.8 46.2 675.6 45.9 676.3 46.1 677 46.8 678.1 48.1 681.6 54.4 681.9 47M674.3 38.7 674.6 40.4 675.7 41.7 677.5 42.7 678.6 43 680.5 42.9 681.6 42.1 682 40.6 682.1 39.6 681.7 37.9 680.7 36.5 678.8 35.6 677.7 35.3 675.9 35.4 674.7 36.1 674.3 37.6 674.3 38.7M124.2 461.4 124 461.2 123.6 460.2 123.4 459.3 123.2 457.8 123.1 455.3 123.2 454.2 123.3 453.8 123.6 453.6 123.9 454 124.3 455 124.9 456.9 126.9 465.3 126.5 456.4M122.5 444.5 122.8 446.6 123.3 448.5 124.2 450.2 124.7 450.8 125.6 451.1 126 450.5 126.1 448.8 126 447.5 125.8 445.4 125.2 443.5 124.3 441.8 123.8 441.2 122.9 440.9 122.5 441.5 122.4 443.3 122.5 444.5M720.3 63.9 719.9 63.8 719.1 63.1 718.7 62.4 718.4 61.2 718.4 59.1 718.9 58.1 719.3 57.6 720.1 57.3 720.9 57.5 721.7 58.2 722.8 59.6 726.6 66.1 726.9 58.5M720.7 53 720.3 52.9 719.5 52.2 719.1 51.5 718.7 50.3 718.8 48.1 719.3 47.2 719.7 46.7 720.5 46.4 721.3 46.5 722.1 47.3 723.2 48.7 727 55.2 727.3 47.5M149.1 491.4 148.9 491.2 148.5 490.1 148.3 489.2 148 487.7 147.9 485.1 148 484 148.2 483.5 148.5 483.3 148.9 483.8 149.3 484.9 149.9 486.8 152.1 495.7 151.7 486.4M148.4 478.3 148.3 478 147.9 476.9 147.6 476.1 147.4 474.5 147.3 471.9 147.4 470.8 147.5 470.3 147.9 470.1 148.3 470.5 148.7 471.6 149.3 473.6 151.5 482.5 151 473.2M768.4 76.8 768 76.7 767.2 75.9 766.8 75.2 766.4 74 766.5 71.7 766.9 70.7 767.4 70.2 768.3 69.9 769.1 70.1 770 70.9 771.2 72.4 775.3 79.2 775.6 71.2M767 59.8 772.8 67 773.1 58.5M767 59.8 776 62.1M176.2 524.5 176 524.2 175.6 523.1 175.4 522.1 175.1 520.5 175 517.8 175.1 516.7 175.3 516.2 175.7 516 176.1 516.5 176.5 517.7 177.2 519.8 179.5 529.1 179.1 519.5M174.3 503.4 177.5 513.6 177 503.3M174.3 503.4 178.6 508.4M820.7 90.2 820.2 90 819.3 89.2 818.9 88.5 818.5 87.2 818.6 84.8 819.1 83.8 819.6 83.3 820.6 83 821.5 83.2 822.4 84 823.8 85.6 828.2 92.7 828.6 84.4M820.7 71 819.7 71.4 819.2 73.1 819.1 74.2 819.5 76.1 820.8 77.7 823.1 78.8 825.5 79.4 827.4 79.3 828.4 78.4 829 76.7 829 76.1 828.6 74.2 827.7 72.8 826.3 71.8 825.9 71.7 824.4 72 823.4 72.9 822.9 74.6 822.8 75.2 823.2 77.1 824.1 78.5 825.5 79.4M205.9 559.9 205.6 559.6 205.2 558.4 204.9 557.4 204.6 555.7 204.5 552.8 204.7 551.7 204.9 551.2 205.3 551.1 205.7 551.6 206.2 552.8 206.9 555.1 209.5 564.9 209.1 554.9M204.5 536.5 204.1 536.7 203.9 538.6 204 540 204.3 542.4 205 544.6 206.2 546.7 207.3 548 208.2 548.3 208.5 547.4 208.7 545.5 208.7 544.8 208.3 542.4 207.8 540.4 207.1 538.9 206.9 538.7 206.3 538.6 205.9 539.5 205.8 541.4 205.8 542.1 206.1 544.5 206.6 546.5 207.3 548M877.6 105 877.1 104.9 876.1 104 875.6 103.3 875.2 101.9 875.3 99.4 875.9 98.3 876.4 97.9 877.5 97.5 878.5 97.8 879.5 98.6 880.9 100.3 885.7 107.8 886.2 99.1M875.9 89.6 876.3 91.6 877.2 92.5 878.3 92.7 879.3 92.4 879.9 91.3 880.6 88.9 881.2 87.2 882.3 86.2 883.3 85.8 884.9 86.2 885.9 87.1 886.4 87.8 886.8 89.8 886.6 92.3 886 94 885.4 94.5 884.4 94.9 882.8 94.5 881.8 93.6 880.9 92.1 880.5 90.2 880.1 87.6 879.7 86.2 878.7 85.3 877.7 85.1 876.6 85.4 876 87.2 875.9 89.6M238.4 599.1 238.2 598.8 237.6 597.5 237.4 596.4 237.1 594.7 237 591.7 237.2 590.5 237.4 590 237.8 589.9 238.3 590.5 238.8 591.8 239.6 594.2 242.3 604.6 242 594.1M236.5 579.8 236.9 582.3 237.4 583.6 237.9 584.2 238.3 584.1 238.5 582.9 238.7 580.2 238.8 578.2 239.3 577.3 239.7 577.1 240.5 578 241 579.3 241.3 580.3 241.6 582.9 241.7 585.9 241.5 587.8 241.3 588.3 240.8 588.5 240.1 587.6 239.6 586.3 239 584.2 238.7 581.6 238.4 578.4 238.1 576.6 237.6 575.3 237.1 574.7 236.6 574.9 236.4 576.8 236.5 579.8M937 119.9 937.5 112.8 941.7 117.8 941.8 115.9 942.4 114.8 943 114.3 944.8 114.1 945.9 114.3 947.5 115.4 948.6 117 949 119.1 948.9 121 948.2 122.8 947.6 123.3 946.4 123.7M938 104.5 938.4 106.6 940 108.3 942.8 109.6 944.5 110.1 947.3 110.1 949.1 109.3 949.8 107.5 949.9 106.2 949.4 104.1 947.8 102.4 945.1 101 943.4 100.6 940.5 100.6 938.8 101.4 938.1 103.2 938 104.5M272.9 639.9 272.6 631.4 274.9 638.6 274.9 636.3 275.1 635.1 275.3 634.6 276.1 634.8 276.7 635.5 277.5 637.2 278.1 639.4 278.4 642.1 278.5 644.4 278.3 646.4 278.1 646.9 277.5 647M272.3 621.3 272.7 624 273.5 626.5 274.9 628.9 275.7 629.8 277.1 630.7 277.8 630.1 278 628 278 626.5 277.6 623.8 276.8 621.3 275.4 618.9 274.6 617.9 273.2 617.1 272.5 617.7 272.3 619.8 272.3 621.3" fill="none" stroke="#000" stroke-width="1" stroke-linejoin="round" shape-rendering="crispEdges"/></g>
</svg>
</body></html>
